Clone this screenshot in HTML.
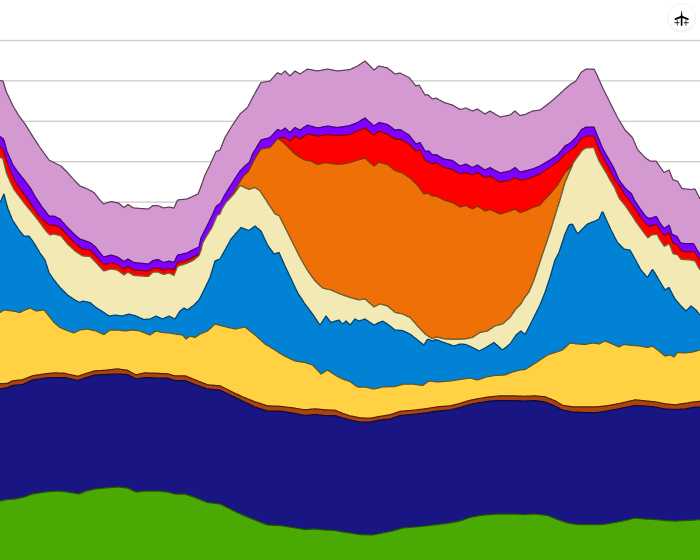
<!DOCTYPE html>
<html><head><meta charset="utf-8"><title>chart</title>
<style>html,body{margin:0;padding:0;background:#fff;}body{width:700px;height:560px;overflow:hidden;position:relative;font-family:"Liberation Sans",sans-serif;}svg{display:block;position:absolute;left:0;top:0}</style>
</head><body>
<svg width="700" height="560" viewBox="0 0 700 560">
<rect width="700" height="560" fill="#fff"/>
<rect x="0" y="39.85" width="700" height="1.3" fill="#cbcbcb"/><rect x="0" y="80.25" width="700" height="1.3" fill="#cbcbcb"/><rect x="0" y="120.65" width="700" height="1.3" fill="#cbcbcb"/><rect x="0" y="161.05" width="700" height="1.3" fill="#cbcbcb"/><rect x="0" y="201.45" width="700" height="1.3" fill="#cbcbcb"/>
<path d="M0,80.5 1,80.7 2,80.8 3,81.0 4,84.3 5,87.7 6,91.0 7,93.2 8,95.3 9,97.5 10,99.6 11,101.8 12,103.9 13,105.8 14,107.5 15,109.2 16,110.9 17,112.6 18,114.3 19,116.0 20,117.3 21,118.7 22,120.0 23,121.3 24,122.7 25,124.0 26,125.6 27,127.2 28,128.8 29,130.4 30,132.0 31,133.6 32,135.2 33,136.8 34,138.3 35,139.8 36,141.4 37,142.9 38,144.4 39,146.0 40,147.5 41,148.9 42,150.3 43,151.7 44,153.1 45,154.4 46,155.8 47,157.2 48,158.6 49,160.0 50,160.5 51,161.0 52,161.5 53,162.0 54,162.5 55,163.0 56,163.5 57,164.0 58,164.5 59,165.0 60,165.5 61,166.0 62,167.0 63,168.0 64,169.0 65,170.0 66,171.0 67,172.0 68,173.1 69,174.2 70,175.3 71,176.5 72,177.6 73,178.7 74,179.9 75,181.0 76,182.0 77,183.0 78,184.0 79,185.0 80,186.0 81,186.4 82,186.8 83,187.2 84,187.6 85,188.0 86,188.4 87,188.8 88,189.3 89,189.8 90,190.3 91,190.9 92,191.4 93,192.0 94,192.5 95,193.8 96,195.1 97,196.4 98,197.7 99,199.0 100,200.1 101,201.2 102,202.3 103,203.4 104,203.8 105,203.5 106,203.2 107,202.8 108,202.5 109,202.2 110,201.8 111,201.5 112,201.7 113,201.9 114,202.1 115,202.3 116,202.5 117,202.7 118,202.9 119,203.4 120,204.2 121,205.0 122,205.9 123,206.7 124,207.5 125,206.8 126,206.0 127,205.2 128,204.5 129,205.1 130,205.8 131,206.4 132,207.0 133,207.7 134,208.0 135,208.1 136,208.2 137,208.2 138,208.3 139,208.4 140,208.4 141,208.5 142,208.6 143,208.6 144,208.7 145,208.8 146,208.8 147,208.9 148,209.0 149,208.6 150,207.8 151,207.1 152,206.3 153,205.5 154,205.5 155,205.5 156,205.5 157,205.5 158,205.5 159,206.0 160,206.4 161,206.9 162,207.3 163,207.8 164,207.9 165,207.7 166,207.5 167,207.4 168,207.2 169,207.0 170,207.2 171,207.4 172,207.6 173,207.8 174,208.0 175,205.7 176,203.4 177,201.1 178,199.9 179,199.8 180,199.7 181,199.6 182,199.5 183,199.4 184,199.3 185,199.2 186,199.1 187,199.0 188,198.5 189,198.1 190,197.6 191,197.2 192,196.7 193,196.2 194,195.8 195,195.3 196,194.9 197,194.4 198,194.0 199,191.5 200,189.0 201,186.2 202,183.4 203,180.6 204,177.8 205,175.0 206,173.0 207,171.0 208,169.0 209,167.0 210,165.0 211,162.8 212,160.5 213,158.2 214,156.0 215,153.8 216,151.5 217,151.1 218,150.8 219,150.4 220,150.0 221,147.5 222,145.0 223,142.5 224,140.0 225,137.5 226,135.8 227,134.2 228,132.5 229,130.8 230,129.2 231,127.5 232,125.8 233,124.3 234,122.8 235,121.3 236,119.9 237,118.4 238,116.9 239,115.5 240,114.0 241,113.1 242,112.3 243,111.4 244,110.5 245,109.7 246,108.8 247,107.9 248,106.5 249,104.6 250,102.7 251,100.8 252,98.8 253,96.9 254,95.0 255,93.2 256,91.4 257,89.6 258,87.9 259,86.1 260,84.3 261,82.5 262,82.3 263,82.2 264,82.0 265,81.8 266,81.7 267,81.5 268,81.3 269,81.2 270,81.0 271,79.9 272,78.7 273,77.6 274,76.5 275,75.3 276,74.2 277,73.1 278,72.8 279,73.4 280,73.9 281,74.5 282,73.6 283,72.8 284,71.9 285,71.0 286,72.0 287,73.0 288,74.0 289,75.0 290,76.0 291,75.0 292,74.0 293,73.0 294,72.0 295,71.0 296,71.6 297,72.2 298,72.8 299,73.4 300,74.0 301,73.3 302,72.7 303,72.0 304,71.3 305,70.7 306,70.0 307,69.3 308,69.1 309,69.3 310,69.5 311,69.7 312,69.9 313,70.1 314,70.3 315,70.5 316,70.7 317,70.9 318,70.9 319,70.7 320,70.5 321,70.3 322,70.1 323,69.9 324,69.7 325,69.5 326,69.3 327,69.1 328,69.1 329,69.3 330,69.5 331,69.7 332,69.9 333,70.1 334,70.3 335,70.5 336,70.7 337,70.9 338,70.9 339,70.8 340,70.7 341,70.6 342,70.5 343,70.3 344,70.2 345,70.1 346,70.0 347,69.9 348,69.7 349,69.6 350,69.5 351,69.0 352,68.6 353,68.1 354,67.6 355,67.2 356,66.7 357,66.2 358,65.7 359,65.0 360,64.3 361,63.7 362,63.0 363,62.3 364,61.7 365,61.0 366,62.0 367,63.0 368,64.0 369,65.0 370,66.0 371,67.0 372,68.0 373,69.0 374,70.0 375,69.2 376,68.4 377,67.6 378,66.8 379,66.0 380,66.2 381,66.5 382,66.7 383,66.9 384,67.2 385,67.4 386,67.6 387,67.9 388,68.4 389,69.2 390,70.0 391,70.8 392,71.6 393,72.4 394,73.2 395,74.0 396,73.8 397,73.6 398,73.4 399,73.2 400,73.0 401,73.5 402,74.0 403,74.5 404,75.0 405,75.5 406,76.0 407,76.5 408,77.0 409,77.5 410,78.7 411,79.9 412,81.1 413,82.4 414,83.6 415,84.8 416,86.0 417,85.7 418,85.3 419,85.0 420,86.7 421,88.3 422,90.0 423,91.7 424,93.3 425,95.0 426,94.8 427,94.6 428,95.0 429,95.8 430,96.8 431,97.7 432,98.5 433,98.9 434,98.6 435,98.3 436,98.0 437,98.6 438,99.1 439,99.7 440,100.2 441,100.8 442,101.4 443,101.9 444,102.5 445,102.8 446,103.1 447,103.4 448,103.7 449,104.0 450,104.3 451,104.6 452,104.9 453,105.3 454,105.9 455,106.5 456,107.1 457,107.7 458,108.3 459,108.9 460,109.5 461,109.2 462,109.0 463,108.8 464,108.5 465,108.2 466,108.0 467,108.5 468,108.9 469,109.4 470,109.8 471,110.3 472,110.8 473,110.8 474,110.4 475,110.0 476,109.6 477,109.2 478,109.3 479,110.0 480,110.7 481,111.3 482,112.0 483,112.7 484,113.3 485,114.0 486,113.4 487,112.8 488,112.2 489,111.6 490,111.0 491,111.6 492,112.2 493,112.8 494,113.4 495,114.0 496,114.6 497,115.2 498,115.8 499,116.4 500,117.0 501,116.8 502,116.6 503,116.4 504,116.2 505,116.0 506,115.8 507,115.6 508,115.4 509,115.2 510,115.0 511,114.2 512,113.4 513,112.6 514,111.8 515,111.0 516,111.9 517,112.8 518,113.7 519,114.6 520,115.5 521,115.3 522,115.1 523,114.9 524,114.7 525,114.5 526,114.0 527,113.6 528,113.1 529,112.6 530,112.2 531,111.7 532,111.2 533,110.9 534,110.8 535,110.7 536,110.5 537,110.4 538,110.3 539,110.1 540,110.0 541,109.2 542,108.5 543,107.8 544,107.0 545,106.2 546,105.5 547,104.8 548,104.0 549,103.2 550,102.5 551,101.6 552,100.8 553,99.9 554,99.0 555,98.2 556,97.3 557,96.4 558,95.5 559,94.6 560,93.7 561,92.7 562,91.8 563,90.9 564,89.9 565,89.0 566,88.2 567,87.3 568,86.5 569,85.7 570,84.8 571,84.0 572,83.4 573,82.8 574,82.2 575,81.6 576,81.0 577,79.3 578,77.6 579,75.9 580,74.2 581,72.5 582,71.8 583,71.1 584,70.4 585,69.7 586,69.0 587,69.0 588,69.0 589,69.0 590,69.0 591,69.0 592,69.0 593,69.0 594,69.0 595,71.0 596,73.0 597,75.0 598,77.2 599,79.5 600,81.8 601,84.0 602,86.3 603,88.5 604,90.5 605,92.5 606,94.5 607,96.5 608,98.5 609,100.5 610,102.5 611,104.5 612,106.5 613,108.5 614,110.5 615,112.5 616,114.5 617,116.5 618,118.3 619,120.0 620,121.7 621,123.3 622,125.0 623,126.7 624,128.3 625,130.0 626,131.0 627,132.0 628,133.0 629,134.0 630,135.0 631,136.0 632,137.0 633,138.7 634,141.1 635,143.5 636,145.9 637,148.3 638,150.0 639,151.1 640,152.2 641,153.2 642,154.3 643,155.4 644,156.4 645,157.5 646,158.2 647,158.9 648,159.6 649,160.3 650,161.0 651,161.0 652,161.0 653,161.0 654,161.0 655,161.0 656,161.0 657,162.4 658,163.9 659,165.3 660,166.8 661,168.2 662,169.6 663,171.1 664,172.5 665,172.0 666,171.5 667,171.0 668,170.5 669,170.0 670,172.5 671,175.0 672,177.5 673,180.0 674,180.2 675,180.4 676,180.7 677,180.9 678,181.8 679,183.5 680,185.2 681,186.8 682,188.5 683,188.6 684,188.8 685,188.9 686,189.0 687,189.1 688,189.2 689,189.3 690,189.4 691,189.5 692,189.4 693,189.2 694,189.1 695,189.0 696,191.0 697,193.0 698,195.0 699,197.0 700,199.0 L700,565 L0,565Z" fill="#d499d0" stroke="none"/>
<path d="M0,80.5 1,80.7 2,80.8 3,81.0 4,84.3 5,87.7 6,91.0 7,93.2 8,95.3 9,97.5 10,99.6 11,101.8 12,103.9 13,105.8 14,107.5 15,109.2 16,110.9 17,112.6 18,114.3 19,116.0 20,117.3 21,118.7 22,120.0 23,121.3 24,122.7 25,124.0 26,125.6 27,127.2 28,128.8 29,130.4 30,132.0 31,133.6 32,135.2 33,136.8 34,138.3 35,139.8 36,141.4 37,142.9 38,144.4 39,146.0 40,147.5 41,148.9 42,150.3 43,151.7 44,153.1 45,154.4 46,155.8 47,157.2 48,158.6 49,160.0 50,160.5 51,161.0 52,161.5 53,162.0 54,162.5 55,163.0 56,163.5 57,164.0 58,164.5 59,165.0 60,165.5 61,166.0 62,167.0 63,168.0 64,169.0 65,170.0 66,171.0 67,172.0 68,173.1 69,174.2 70,175.3 71,176.5 72,177.6 73,178.7 74,179.9 75,181.0 76,182.0 77,183.0 78,184.0 79,185.0 80,186.0 81,186.4 82,186.8 83,187.2 84,187.6 85,188.0 86,188.4 87,188.8 88,189.3 89,189.8 90,190.3 91,190.9 92,191.4 93,192.0 94,192.5 95,193.8 96,195.1 97,196.4 98,197.7 99,199.0 100,200.1 101,201.2 102,202.3 103,203.4 104,203.8 105,203.5 106,203.2 107,202.8 108,202.5 109,202.2 110,201.8 111,201.5 112,201.7 113,201.9 114,202.1 115,202.3 116,202.5 117,202.7 118,202.9 119,203.4 120,204.2 121,205.0 122,205.9 123,206.7 124,207.5 125,206.8 126,206.0 127,205.2 128,204.5 129,205.1 130,205.8 131,206.4 132,207.0 133,207.7 134,208.0 135,208.1 136,208.2 137,208.2 138,208.3 139,208.4 140,208.4 141,208.5 142,208.6 143,208.6 144,208.7 145,208.8 146,208.8 147,208.9 148,209.0 149,208.6 150,207.8 151,207.1 152,206.3 153,205.5 154,205.5 155,205.5 156,205.5 157,205.5 158,205.5 159,206.0 160,206.4 161,206.9 162,207.3 163,207.8 164,207.9 165,207.7 166,207.5 167,207.4 168,207.2 169,207.0 170,207.2 171,207.4 172,207.6 173,207.8 174,208.0 175,205.7 176,203.4 177,201.1 178,199.9 179,199.8 180,199.7 181,199.6 182,199.5 183,199.4 184,199.3 185,199.2 186,199.1 187,199.0 188,198.5 189,198.1 190,197.6 191,197.2 192,196.7 193,196.2 194,195.8 195,195.3 196,194.9 197,194.4 198,194.0 199,191.5 200,189.0 201,186.2 202,183.4 203,180.6 204,177.8 205,175.0 206,173.0 207,171.0 208,169.0 209,167.0 210,165.0 211,162.8 212,160.5 213,158.2 214,156.0 215,153.8 216,151.5 217,151.1 218,150.8 219,150.4 220,150.0 221,147.5 222,145.0 223,142.5 224,140.0 225,137.5 226,135.8 227,134.2 228,132.5 229,130.8 230,129.2 231,127.5 232,125.8 233,124.3 234,122.8 235,121.3 236,119.9 237,118.4 238,116.9 239,115.5 240,114.0 241,113.1 242,112.3 243,111.4 244,110.5 245,109.7 246,108.8 247,107.9 248,106.5 249,104.6 250,102.7 251,100.8 252,98.8 253,96.9 254,95.0 255,93.2 256,91.4 257,89.6 258,87.9 259,86.1 260,84.3 261,82.5 262,82.3 263,82.2 264,82.0 265,81.8 266,81.7 267,81.5 268,81.3 269,81.2 270,81.0 271,79.9 272,78.7 273,77.6 274,76.5 275,75.3 276,74.2 277,73.1 278,72.8 279,73.4 280,73.9 281,74.5 282,73.6 283,72.8 284,71.9 285,71.0 286,72.0 287,73.0 288,74.0 289,75.0 290,76.0 291,75.0 292,74.0 293,73.0 294,72.0 295,71.0 296,71.6 297,72.2 298,72.8 299,73.4 300,74.0 301,73.3 302,72.7 303,72.0 304,71.3 305,70.7 306,70.0 307,69.3 308,69.1 309,69.3 310,69.5 311,69.7 312,69.9 313,70.1 314,70.3 315,70.5 316,70.7 317,70.9 318,70.9 319,70.7 320,70.5 321,70.3 322,70.1 323,69.9 324,69.7 325,69.5 326,69.3 327,69.1 328,69.1 329,69.3 330,69.5 331,69.7 332,69.9 333,70.1 334,70.3 335,70.5 336,70.7 337,70.9 338,70.9 339,70.8 340,70.7 341,70.6 342,70.5 343,70.3 344,70.2 345,70.1 346,70.0 347,69.9 348,69.7 349,69.6 350,69.5 351,69.0 352,68.6 353,68.1 354,67.6 355,67.2 356,66.7 357,66.2 358,65.7 359,65.0 360,64.3 361,63.7 362,63.0 363,62.3 364,61.7 365,61.0 366,62.0 367,63.0 368,64.0 369,65.0 370,66.0 371,67.0 372,68.0 373,69.0 374,70.0 375,69.2 376,68.4 377,67.6 378,66.8 379,66.0 380,66.2 381,66.5 382,66.7 383,66.9 384,67.2 385,67.4 386,67.6 387,67.9 388,68.4 389,69.2 390,70.0 391,70.8 392,71.6 393,72.4 394,73.2 395,74.0 396,73.8 397,73.6 398,73.4 399,73.2 400,73.0 401,73.5 402,74.0 403,74.5 404,75.0 405,75.5 406,76.0 407,76.5 408,77.0 409,77.5 410,78.7 411,79.9 412,81.1 413,82.4 414,83.6 415,84.8 416,86.0 417,85.7 418,85.3 419,85.0 420,86.7 421,88.3 422,90.0 423,91.7 424,93.3 425,95.0 426,94.8 427,94.6 428,95.0 429,95.8 430,96.8 431,97.7 432,98.5 433,98.9 434,98.6 435,98.3 436,98.0 437,98.6 438,99.1 439,99.7 440,100.2 441,100.8 442,101.4 443,101.9 444,102.5 445,102.8 446,103.1 447,103.4 448,103.7 449,104.0 450,104.3 451,104.6 452,104.9 453,105.3 454,105.9 455,106.5 456,107.1 457,107.7 458,108.3 459,108.9 460,109.5 461,109.2 462,109.0 463,108.8 464,108.5 465,108.2 466,108.0 467,108.5 468,108.9 469,109.4 470,109.8 471,110.3 472,110.8 473,110.8 474,110.4 475,110.0 476,109.6 477,109.2 478,109.3 479,110.0 480,110.7 481,111.3 482,112.0 483,112.7 484,113.3 485,114.0 486,113.4 487,112.8 488,112.2 489,111.6 490,111.0 491,111.6 492,112.2 493,112.8 494,113.4 495,114.0 496,114.6 497,115.2 498,115.8 499,116.4 500,117.0 501,116.8 502,116.6 503,116.4 504,116.2 505,116.0 506,115.8 507,115.6 508,115.4 509,115.2 510,115.0 511,114.2 512,113.4 513,112.6 514,111.8 515,111.0 516,111.9 517,112.8 518,113.7 519,114.6 520,115.5 521,115.3 522,115.1 523,114.9 524,114.7 525,114.5 526,114.0 527,113.6 528,113.1 529,112.6 530,112.2 531,111.7 532,111.2 533,110.9 534,110.8 535,110.7 536,110.5 537,110.4 538,110.3 539,110.1 540,110.0 541,109.2 542,108.5 543,107.8 544,107.0 545,106.2 546,105.5 547,104.8 548,104.0 549,103.2 550,102.5 551,101.6 552,100.8 553,99.9 554,99.0 555,98.2 556,97.3 557,96.4 558,95.5 559,94.6 560,93.7 561,92.7 562,91.8 563,90.9 564,89.9 565,89.0 566,88.2 567,87.3 568,86.5 569,85.7 570,84.8 571,84.0 572,83.4 573,82.8 574,82.2 575,81.6 576,81.0 577,79.3 578,77.6 579,75.9 580,74.2 581,72.5 582,71.8 583,71.1 584,70.4 585,69.7 586,69.0 587,69.0 588,69.0 589,69.0 590,69.0 591,69.0 592,69.0 593,69.0 594,69.0 595,71.0 596,73.0 597,75.0 598,77.2 599,79.5 600,81.8 601,84.0 602,86.3 603,88.5 604,90.5 605,92.5 606,94.5 607,96.5 608,98.5 609,100.5 610,102.5 611,104.5 612,106.5 613,108.5 614,110.5 615,112.5 616,114.5 617,116.5 618,118.3 619,120.0 620,121.7 621,123.3 622,125.0 623,126.7 624,128.3 625,130.0 626,131.0 627,132.0 628,133.0 629,134.0 630,135.0 631,136.0 632,137.0 633,138.7 634,141.1 635,143.5 636,145.9 637,148.3 638,150.0 639,151.1 640,152.2 641,153.2 642,154.3 643,155.4 644,156.4 645,157.5 646,158.2 647,158.9 648,159.6 649,160.3 650,161.0 651,161.0 652,161.0 653,161.0 654,161.0 655,161.0 656,161.0 657,162.4 658,163.9 659,165.3 660,166.8 661,168.2 662,169.6 663,171.1 664,172.5 665,172.0 666,171.5 667,171.0 668,170.5 669,170.0 670,172.5 671,175.0 672,177.5 673,180.0 674,180.2 675,180.4 676,180.7 677,180.9 678,181.8 679,183.5 680,185.2 681,186.8 682,188.5 683,188.6 684,188.8 685,188.9 686,189.0 687,189.1 688,189.2 689,189.3 690,189.4 691,189.5 692,189.4 693,189.2 694,189.1 695,189.0 696,191.0 697,193.0 698,195.0 699,197.0 700,199.0" fill="none" stroke="#5c4059" stroke-width="1.25" stroke-linejoin="round"/>
<path d="M0,136.5 1,137.2 2,137.9 3,138.6 4,140.5 5,144.1 6,147.8 7,151.4 8,153.7 9,156.0 10,158.3 11,160.6 12,162.9 13,165.1 14,166.5 15,167.9 16,169.4 17,170.8 18,172.2 19,173.5 20,174.7 21,175.9 22,177.2 23,178.4 24,179.6 25,180.9 26,182.3 27,183.6 28,185.0 29,186.3 30,187.7 31,189.1 32,190.9 33,192.7 34,194.5 35,196.3 36,197.9 37,199.4 38,200.9 39,202.4 40,203.9 41,205.4 42,206.8 43,208.1 44,209.4 45,210.7 46,212.1 47,213.4 48,214.7 49,216.0 50,216.0 51,216.0 52,216.0 53,216.0 54,216.0 55,216.5 56,217.0 57,217.5 58,218.0 59,218.5 60,219.0 61,220.1 62,221.3 63,222.4 64,223.5 65,224.7 66,225.8 67,226.9 68,228.0 69,229.0 70,230.0 71,231.0 72,232.0 73,233.0 74,234.0 75,235.0 76,235.8 77,236.6 78,237.4 79,238.2 80,239.0 81,239.3 82,239.7 83,240.1 84,240.4 85,240.8 86,241.1 87,241.4 88,241.8 89,242.2 90,242.5 91,243.3 92,244.1 93,244.9 94,245.7 95,246.5 96,247.7 97,249.0 98,250.2 99,251.4 100,252.7 101,253.9 102,255.1 103,256.4 104,256.9 105,256.6 106,256.3 107,256.1 108,255.8 109,255.5 110,255.3 111,255.0 112,255.3 113,255.6 114,255.9 115,256.2 116,256.5 117,256.8 118,257.3 119,258.0 120,258.7 121,259.4 122,260.1 123,260.8 124,261.5 125,260.9 126,260.2 127,259.6 128,259.0 129,259.6 130,260.3 131,260.9 132,261.5 133,262.2 134,262.6 135,262.6 136,262.8 137,262.9 138,262.9 139,263.1 140,263.1 141,263.2 142,263.4 143,263.4 144,263.6 145,263.6 146,263.8 147,263.9 148,263.9 149,263.6 150,262.8 151,262.1 152,261.3 153,260.5 154,260.3 155,260.1 156,259.9 157,259.7 158,259.5 159,260.0 160,260.6 161,261.1 162,261.7 163,262.2 164,262.4 165,262.1 166,261.8 167,261.5 168,261.3 169,261.0 170,261.3 171,261.6 172,261.9 173,262.2 174,262.5 175,260.4 176,258.2 177,256.1 178,254.9 179,254.7 180,254.5 181,254.3 182,254.1 183,253.8 184,253.6 185,253.4 186,253.2 187,253.0 188,252.5 189,251.9 190,251.4 191,250.8 192,250.3 193,249.8 194,249.3 195,248.8 196,248.4 197,247.9 198,247.5 199,247.0 200,242.5 201,238.0 202,236.0 203,234.0 204,232.0 205,230.0 206,228.0 207,226.0 208,224.0 209,221.9 210,219.9 211,217.9 212,215.8 213,213.8 214,211.4 215,209.1 216,206.7 217,205.6 218,205.0 219,204.4 220,203.9 221,202.3 222,200.3 223,198.3 224,196.3 225,194.6 226,193.0 227,191.4 228,189.8 229,188.2 230,186.6 231,185.0 232,183.4 233,181.8 234,180.1 235,178.5 236,177.0 237,175.5 238,174.0 239,172.5 240,171.0 241,169.9 242,168.9 243,167.9 244,166.9 245,165.9 246,164.9 247,164.2 248,163.5 249,162.9 250,160.9 251,158.2 252,155.4 253,153.4 254,151.6 255,149.9 256,148.2 257,146.5 258,144.9 259,143.3 260,141.6 261,140.0 262,139.7 263,139.4 264,139.2 265,138.9 266,138.6 267,138.3 268,138.1 269,137.8 270,137.5 271,136.4 272,135.4 273,134.3 274,133.2 275,132.2 276,131.1 277,130.0 278,129.7 279,130.1 280,130.6 281,131.0 282,130.2 283,129.5 284,128.8 285,128.0 286,128.9 287,129.8 288,130.7 289,131.6 290,132.5 291,131.5 292,130.5 293,129.5 294,128.5 295,127.5 296,128.0 297,128.5 298,129.0 299,129.5 300,130.0 301,129.3 302,128.7 303,128.0 304,127.3 305,126.7 306,126.0 307,125.3 308,125.2 309,125.5 310,125.8 311,126.0 312,126.3 313,126.7 314,127.0 315,127.2 316,127.5 317,127.8 318,127.9 319,127.7 320,127.5 321,127.3 322,127.1 323,126.9 324,126.7 325,126.5 326,126.3 327,126.1 328,126.1 329,126.2 330,126.4 331,126.5 332,126.7 333,126.8 334,127.0 335,127.1 336,127.3 337,127.4 338,127.4 339,127.3 340,127.1 341,126.9 342,126.8 343,126.6 344,126.5 345,126.3 346,126.1 347,126.0 348,125.8 349,125.7 350,125.5 351,125.1 352,124.7 353,124.3 354,123.9 355,123.5 356,123.1 357,122.7 358,122.2 359,121.6 360,121.0 361,120.4 362,119.8 363,119.2 364,118.6 365,118.0 366,118.9 367,119.8 368,120.7 369,121.6 370,122.4 371,123.3 372,124.2 373,125.1 374,126.0 375,125.3 376,124.6 377,123.9 378,123.2 379,122.5 380,122.7 381,123.0 382,123.2 383,123.4 384,123.7 385,123.9 386,124.1 387,124.4 388,124.9 389,125.6 390,126.3 391,127.1 392,127.8 393,128.5 394,129.3 395,130.0 396,129.9 397,129.8 398,129.7 399,129.6 400,129.5 401,130.1 402,130.7 403,131.3 404,131.9 405,132.6 406,133.2 407,133.8 408,134.4 409,135.0 410,136.3 411,137.6 412,138.9 413,140.1 414,141.4 415,142.7 416,144.0 417,143.6 418,143.2 419,142.9 420,142.5 421,144.2 422,145.9 423,147.6 424,149.3 425,151.0 426,151.0 427,151.0 428,151.0 429,151.0 430,152.1 431,153.3 432,154.4 433,154.9 434,154.8 435,154.6 436,154.5 437,155.1 438,155.6 439,156.2 440,156.8 441,157.3 442,157.9 443,158.4 444,159.0 445,159.2 446,159.4 447,159.5 448,159.7 449,159.9 450,160.1 451,160.2 452,160.4 453,160.9 454,161.6 455,162.3 456,163.1 457,163.8 458,164.5 459,165.3 460,166.0 461,165.7 462,165.3 463,165.0 464,164.7 465,164.3 466,164.0 467,164.5 468,165.1 469,165.6 470,166.2 471,166.7 472,167.2 473,167.2 474,166.8 475,166.2 476,165.8 477,165.2 478,165.3 479,166.0 480,166.7 481,167.3 482,168.0 483,168.7 484,169.3 485,170.0 486,169.5 487,169.0 488,168.5 489,168.0 490,167.5 491,168.1 492,168.6 493,169.2 494,169.7 495,170.2 496,170.8 497,171.3 498,171.9 499,172.4 500,173.0 501,172.8 502,172.6 503,172.4 504,172.2 505,172.0 506,171.8 507,171.6 508,171.4 509,171.2 510,171.0 511,170.3 512,169.6 513,168.9 514,168.2 515,167.5 516,168.4 517,169.3 518,170.2 519,171.1 520,172.0 521,171.8 522,171.6 523,171.4 524,171.2 525,171.0 526,170.7 527,170.5 528,170.2 529,169.9 530,169.7 531,169.4 532,169.1 533,168.8 534,168.4 535,168.0 536,167.6 537,167.2 538,166.8 539,166.4 540,166.0 541,165.4 542,164.8 543,164.2 544,163.6 545,163.0 546,162.4 547,161.8 548,161.2 549,160.6 550,160.0 551,159.3 552,158.7 553,158.0 554,157.3 555,156.7 556,156.0 557,155.3 558,154.4 559,153.2 560,152.0 561,150.8 562,149.6 563,148.4 564,147.2 565,146.0 566,145.4 567,144.8 568,144.2 569,143.7 570,143.1 571,142.5 572,141.5 573,140.5 574,139.5 575,138.5 576,137.5 577,136.0 578,134.5 579,133.0 580,131.5 581,130.0 582,129.4 583,128.8 584,128.2 585,127.6 586,127.0 587,127.0 588,127.0 589,127.0 590,127.0 591,127.0 592,127.0 593,127.0 594,127.0 595,129.6 596,132.1 597,134.7 598,137.2 599,139.6 600,142.0 601,144.4 602,146.8 603,148.9 604,150.8 605,152.6 606,154.5 607,156.2 608,157.8 609,159.5 610,161.2 611,162.9 612,164.8 613,166.6 614,168.5 615,170.8 616,173.1 617,175.4 618,177.7 619,180.0 620,181.3 621,182.6 622,184.0 623,185.3 624,186.6 625,187.9 626,189.0 627,189.9 628,190.7 629,191.6 630,192.4 631,193.3 632,194.9 633,197.1 634,199.3 635,201.1 636,202.6 637,204.1 638,205.6 639,207.1 640,208.6 641,210.0 642,211.3 643,212.7 644,214.1 645,215.4 646,216.6 647,217.2 648,217.8 649,218.4 650,218.4 651,218.1 652,217.8 653,217.5 654,217.1 655,216.8 656,216.5 657,217.5 658,219.3 659,221.2 660,223.0 661,224.3 662,225.6 663,226.8 664,228.1 665,228.0 666,227.3 667,226.6 668,225.9 669,225.2 670,227.4 671,230.9 672,234.3 673,234.7 674,235.1 675,235.6 676,236.0 677,236.4 678,238.2 679,240.0 680,241.8 681,243.0 682,243.2 683,243.3 684,243.4 685,243.5 686,243.6 687,243.6 688,243.6 689,243.6 690,243.6 691,243.6 692,243.6 693,243.6 694,244.4 695,246.2 696,248.1 697,250.0 698,251.3 699,252.7 700,254.0 L700,565 L0,565Z" fill="#8000ff" stroke="none"/>
<path d="M0,136.5 1,137.2 2,137.9 3,138.6 4,140.5 5,144.1 6,147.8 7,151.4 8,153.7 9,156.0 10,158.3 11,160.6 12,162.9 13,165.1 14,166.5 15,167.9 16,169.4 17,170.8 18,172.2 19,173.5 20,174.7 21,175.9 22,177.2 23,178.4 24,179.6 25,180.9 26,182.3 27,183.6 28,185.0 29,186.3 30,187.7 31,189.1 32,190.9 33,192.7 34,194.5 35,196.3 36,197.9 37,199.4 38,200.9 39,202.4 40,203.9 41,205.4 42,206.8 43,208.1 44,209.4 45,210.7 46,212.1 47,213.4 48,214.7 49,216.0 50,216.0 51,216.0 52,216.0 53,216.0 54,216.0 55,216.5 56,217.0 57,217.5 58,218.0 59,218.5 60,219.0 61,220.1 62,221.3 63,222.4 64,223.5 65,224.7 66,225.8 67,226.9 68,228.0 69,229.0 70,230.0 71,231.0 72,232.0 73,233.0 74,234.0 75,235.0 76,235.8 77,236.6 78,237.4 79,238.2 80,239.0 81,239.3 82,239.7 83,240.1 84,240.4 85,240.8 86,241.1 87,241.4 88,241.8 89,242.2 90,242.5 91,243.3 92,244.1 93,244.9 94,245.7 95,246.5 96,247.7 97,249.0 98,250.2 99,251.4 100,252.7 101,253.9 102,255.1 103,256.4 104,256.9 105,256.6 106,256.3 107,256.1 108,255.8 109,255.5 110,255.3 111,255.0 112,255.3 113,255.6 114,255.9 115,256.2 116,256.5 117,256.8 118,257.3 119,258.0 120,258.7 121,259.4 122,260.1 123,260.8 124,261.5 125,260.9 126,260.2 127,259.6 128,259.0 129,259.6 130,260.3 131,260.9 132,261.5 133,262.2 134,262.6 135,262.6 136,262.8 137,262.9 138,262.9 139,263.1 140,263.1 141,263.2 142,263.4 143,263.4 144,263.6 145,263.6 146,263.8 147,263.9 148,263.9 149,263.6 150,262.8 151,262.1 152,261.3 153,260.5 154,260.3 155,260.1 156,259.9 157,259.7 158,259.5 159,260.0 160,260.6 161,261.1 162,261.7 163,262.2 164,262.4 165,262.1 166,261.8 167,261.5 168,261.3 169,261.0 170,261.3 171,261.6 172,261.9 173,262.2 174,262.5 175,260.4 176,258.2 177,256.1 178,254.9 179,254.7 180,254.5 181,254.3 182,254.1 183,253.8 184,253.6 185,253.4 186,253.2 187,253.0 188,252.5 189,251.9 190,251.4 191,250.8 192,250.3 193,249.8 194,249.3 195,248.8 196,248.4 197,247.9 198,247.5 199,247.0 200,242.5 201,238.0 202,236.0 203,234.0 204,232.0 205,230.0 206,228.0 207,226.0 208,224.0 209,221.9 210,219.9 211,217.9 212,215.8 213,213.8 214,211.4 215,209.1 216,206.7 217,205.6 218,205.0 219,204.4 220,203.9 221,202.3 222,200.3 223,198.3 224,196.3 225,194.6 226,193.0 227,191.4 228,189.8 229,188.2 230,186.6 231,185.0 232,183.4 233,181.8 234,180.1 235,178.5 236,177.0 237,175.5 238,174.0 239,172.5 240,171.0 241,169.9 242,168.9 243,167.9 244,166.9 245,165.9 246,164.9 247,164.2 248,163.5 249,162.9 250,160.9 251,158.2 252,155.4 253,153.4 254,151.6 255,149.9 256,148.2 257,146.5 258,144.9 259,143.3 260,141.6 261,140.0 262,139.7 263,139.4 264,139.2 265,138.9 266,138.6 267,138.3 268,138.1 269,137.8 270,137.5 271,136.4 272,135.4 273,134.3 274,133.2 275,132.2 276,131.1 277,130.0 278,129.7 279,130.1 280,130.6 281,131.0 282,130.2 283,129.5 284,128.8 285,128.0 286,128.9 287,129.8 288,130.7 289,131.6 290,132.5 291,131.5 292,130.5 293,129.5 294,128.5 295,127.5 296,128.0 297,128.5 298,129.0 299,129.5 300,130.0 301,129.3 302,128.7 303,128.0 304,127.3 305,126.7 306,126.0 307,125.3 308,125.2 309,125.5 310,125.8 311,126.0 312,126.3 313,126.7 314,127.0 315,127.2 316,127.5 317,127.8 318,127.9 319,127.7 320,127.5 321,127.3 322,127.1 323,126.9 324,126.7 325,126.5 326,126.3 327,126.1 328,126.1 329,126.2 330,126.4 331,126.5 332,126.7 333,126.8 334,127.0 335,127.1 336,127.3 337,127.4 338,127.4 339,127.3 340,127.1 341,126.9 342,126.8 343,126.6 344,126.5 345,126.3 346,126.1 347,126.0 348,125.8 349,125.7 350,125.5 351,125.1 352,124.7 353,124.3 354,123.9 355,123.5 356,123.1 357,122.7 358,122.2 359,121.6 360,121.0 361,120.4 362,119.8 363,119.2 364,118.6 365,118.0 366,118.9 367,119.8 368,120.7 369,121.6 370,122.4 371,123.3 372,124.2 373,125.1 374,126.0 375,125.3 376,124.6 377,123.9 378,123.2 379,122.5 380,122.7 381,123.0 382,123.2 383,123.4 384,123.7 385,123.9 386,124.1 387,124.4 388,124.9 389,125.6 390,126.3 391,127.1 392,127.8 393,128.5 394,129.3 395,130.0 396,129.9 397,129.8 398,129.7 399,129.6 400,129.5 401,130.1 402,130.7 403,131.3 404,131.9 405,132.6 406,133.2 407,133.8 408,134.4 409,135.0 410,136.3 411,137.6 412,138.9 413,140.1 414,141.4 415,142.7 416,144.0 417,143.6 418,143.2 419,142.9 420,142.5 421,144.2 422,145.9 423,147.6 424,149.3 425,151.0 426,151.0 427,151.0 428,151.0 429,151.0 430,152.1 431,153.3 432,154.4 433,154.9 434,154.8 435,154.6 436,154.5 437,155.1 438,155.6 439,156.2 440,156.8 441,157.3 442,157.9 443,158.4 444,159.0 445,159.2 446,159.4 447,159.5 448,159.7 449,159.9 450,160.1 451,160.2 452,160.4 453,160.9 454,161.6 455,162.3 456,163.1 457,163.8 458,164.5 459,165.3 460,166.0 461,165.7 462,165.3 463,165.0 464,164.7 465,164.3 466,164.0 467,164.5 468,165.1 469,165.6 470,166.2 471,166.7 472,167.2 473,167.2 474,166.8 475,166.2 476,165.8 477,165.2 478,165.3 479,166.0 480,166.7 481,167.3 482,168.0 483,168.7 484,169.3 485,170.0 486,169.5 487,169.0 488,168.5 489,168.0 490,167.5 491,168.1 492,168.6 493,169.2 494,169.7 495,170.2 496,170.8 497,171.3 498,171.9 499,172.4 500,173.0 501,172.8 502,172.6 503,172.4 504,172.2 505,172.0 506,171.8 507,171.6 508,171.4 509,171.2 510,171.0 511,170.3 512,169.6 513,168.9 514,168.2 515,167.5 516,168.4 517,169.3 518,170.2 519,171.1 520,172.0 521,171.8 522,171.6 523,171.4 524,171.2 525,171.0 526,170.7 527,170.5 528,170.2 529,169.9 530,169.7 531,169.4 532,169.1 533,168.8 534,168.4 535,168.0 536,167.6 537,167.2 538,166.8 539,166.4 540,166.0 541,165.4 542,164.8 543,164.2 544,163.6 545,163.0 546,162.4 547,161.8 548,161.2 549,160.6 550,160.0 551,159.3 552,158.7 553,158.0 554,157.3 555,156.7 556,156.0 557,155.3 558,154.4 559,153.2 560,152.0 561,150.8 562,149.6 563,148.4 564,147.2 565,146.0 566,145.4 567,144.8 568,144.2 569,143.7 570,143.1 571,142.5 572,141.5 573,140.5 574,139.5 575,138.5 576,137.5 577,136.0 578,134.5 579,133.0 580,131.5 581,130.0 582,129.4 583,128.8 584,128.2 585,127.6 586,127.0 587,127.0 588,127.0 589,127.0 590,127.0 591,127.0 592,127.0 593,127.0 594,127.0 595,129.6 596,132.1 597,134.7 598,137.2 599,139.6 600,142.0 601,144.4 602,146.8 603,148.9 604,150.8 605,152.6 606,154.5 607,156.2 608,157.8 609,159.5 610,161.2 611,162.9 612,164.8 613,166.6 614,168.5 615,170.8 616,173.1 617,175.4 618,177.7 619,180.0 620,181.3 621,182.6 622,184.0 623,185.3 624,186.6 625,187.9 626,189.0 627,189.9 628,190.7 629,191.6 630,192.4 631,193.3 632,194.9 633,197.1 634,199.3 635,201.1 636,202.6 637,204.1 638,205.6 639,207.1 640,208.6 641,210.0 642,211.3 643,212.7 644,214.1 645,215.4 646,216.6 647,217.2 648,217.8 649,218.4 650,218.4 651,218.1 652,217.8 653,217.5 654,217.1 655,216.8 656,216.5 657,217.5 658,219.3 659,221.2 660,223.0 661,224.3 662,225.6 663,226.8 664,228.1 665,228.0 666,227.3 667,226.6 668,225.9 669,225.2 670,227.4 671,230.9 672,234.3 673,234.7 674,235.1 675,235.6 676,236.0 677,236.4 678,238.2 679,240.0 680,241.8 681,243.0 682,243.2 683,243.3 684,243.4 685,243.5 686,243.6 687,243.6 688,243.6 689,243.6 690,243.6 691,243.6 692,243.6 693,243.6 694,244.4 695,246.2 696,248.1 697,250.0 698,251.3 699,252.7 700,254.0" fill="none" stroke="#40007f" stroke-width="1.25" stroke-linejoin="round"/>
<path d="M0,147.0 1,147.6 2,148.1 3,148.9 4,152.2 5,155.4 6,158.7 7,161.7 8,164.5 9,167.3 10,170.0 11,172.6 12,174.7 13,176.8 14,178.9 15,181.0 16,182.9 17,184.3 18,185.7 19,187.1 20,188.5 21,189.9 22,191.3 23,192.7 24,194.1 25,195.5 26,196.9 27,198.3 28,199.7 29,201.1 30,202.6 31,204.1 32,205.6 33,207.1 34,208.6 35,210.0 36,211.4 37,212.8 38,214.2 39,215.6 40,217.0 41,217.9 42,218.8 43,219.7 44,220.6 45,221.4 46,222.3 47,223.2 48,224.1 49,225.0 50,225.0 51,225.0 52,225.0 53,225.0 54,225.0 55,225.4 56,225.8 57,226.2 58,226.7 59,227.1 60,227.5 61,228.5 62,229.5 63,230.5 64,231.5 65,232.5 66,233.5 67,234.5 68,235.6 69,236.7 70,237.8 71,239.0 72,240.1 73,241.2 74,242.4 75,243.5 76,244.2 77,245.0 78,245.7 79,246.4 80,247.2 81,247.9 82,248.6 83,249.1 84,249.2 85,249.3 86,249.5 87,249.6 88,249.7 89,249.9 90,250.0 91,251.0 92,252.0 93,253.0 94,254.0 95,255.0 96,256.1 97,257.2 98,258.4 99,259.5 100,260.6 101,261.7 102,262.8 103,263.9 104,264.4 105,264.2 106,264.0 107,263.8 108,263.6 109,263.4 110,263.2 111,263.0 112,263.2 113,263.5 114,263.7 115,263.9 116,264.2 117,264.4 118,264.8 119,265.5 120,266.2 121,266.9 122,267.6 123,268.3 124,269.0 125,268.4 126,267.8 127,267.1 128,266.5 129,267.1 130,267.8 131,268.4 132,269.0 133,269.7 134,270.0 135,270.1 136,270.2 137,270.2 138,270.3 139,270.4 140,270.4 141,270.5 142,270.6 143,270.6 144,270.7 145,270.8 146,270.8 147,270.9 148,271.0 149,270.7 150,270.0 151,269.3 152,268.7 153,268.0 154,268.0 155,268.0 156,268.0 157,268.0 158,268.0 159,268.4 160,268.7 161,269.1 162,269.5 163,269.8 164,269.9 165,269.6 166,269.3 167,269.0 168,268.8 169,268.5 170,268.8 171,269.1 172,269.4 173,269.7 174,270.0 175,267.9 176,265.7 177,263.6 178,262.4 179,262.1 180,261.8 181,261.6 182,261.3 183,261.1 184,260.8 185,260.5 186,260.3 187,260.0 188,259.5 189,259.1 190,258.6 191,258.2 192,257.7 193,257.2 194,256.7 195,256.2 196,255.6 197,255.1 198,254.5 199,254.0 200,252.0 201,249.3 202,245.9 203,242.5 204,240.8 205,239.0 206,237.2 207,235.5 208,233.9 209,232.3 210,230.7 211,229.1 212,227.5 213,225.2 214,222.8 215,220.5 216,218.0 217,215.5 218,215.0 219,214.5 220,214.0 221,211.5 222,209.0 223,207.3 224,205.7 225,204.0 226,202.6 227,201.2 228,199.9 229,198.5 230,197.4 231,196.3 232,195.0 233,193.4 234,191.7 235,190.1 236,188.4 237,186.6 238,184.9 239,183.2 240,181.4 241,179.8 242,178.3 243,176.8 244,175.4 245,174.6 246,173.7 247,172.8 248,172.0 249,170.3 250,168.3 251,166.3 252,164.3 253,162.3 254,160.3 255,158.6 256,156.8 257,155.1 258,153.3 259,151.8 260,150.4 261,149.0 262,148.8 263,148.7 264,148.5 265,148.3 266,148.2 267,148.0 268,147.8 269,147.7 270,147.5 271,146.4 272,145.2 273,144.1 274,143.0 275,141.8 276,140.7 277,139.6 278,138.8 279,138.4 280,137.9 281,137.5 282,137.5 283,137.5 284,137.5 285,137.5 286,138.2 287,138.9 288,139.6 289,140.3 290,141.0 291,140.0 292,139.0 293,138.0 294,137.0 295,136.0 296,136.6 297,137.2 298,137.8 299,138.4 300,139.0 301,138.3 302,137.7 303,137.0 304,136.3 305,135.7 306,135.0 307,134.3 308,134.1 309,134.3 310,134.5 311,134.7 312,134.9 313,135.1 314,135.3 315,135.5 316,135.7 317,135.9 318,135.9 319,135.8 320,135.6 321,135.5 322,135.3 323,135.2 324,135.0 325,134.9 326,134.7 327,134.6 328,134.6 329,134.7 330,134.8 331,134.8 332,134.9 333,135.1 334,135.2 335,135.2 336,135.3 337,135.4 338,135.5 339,135.4 340,135.3 341,135.2 342,135.1 343,135.1 344,135.0 345,134.9 346,134.8 347,134.7 348,134.7 349,134.6 350,134.5 351,134.0 352,133.6 353,133.1 354,132.6 355,132.2 356,131.7 357,131.2 358,130.8 359,130.4 360,130.0 361,129.6 362,129.2 363,128.8 364,128.4 365,128.0 366,128.8 367,129.6 368,130.3 369,131.1 370,131.9 371,132.7 372,133.4 373,134.2 374,135.0 375,134.2 376,133.4 377,132.6 378,131.8 379,131.0 380,131.4 381,131.7 382,132.1 383,132.4 384,132.8 385,133.1 386,133.5 387,133.8 388,134.3 389,135.0 390,135.7 391,136.3 392,137.0 393,137.7 394,138.3 395,139.0 396,139.0 397,139.0 398,139.0 399,139.0 400,139.0 401,139.6 402,140.1 403,140.7 404,141.2 405,141.8 406,142.3 407,142.9 408,143.4 409,144.0 410,145.0 411,146.0 412,147.0 413,148.0 414,149.0 415,150.0 416,151.0 417,150.8 418,150.5 419,150.2 420,150.0 421,152.0 422,154.0 423,156.0 424,158.0 425,160.0 426,160.5 427,161.1 428,161.6 429,162.1 430,162.7 431,163.2 432,163.7 433,163.8 434,163.4 435,162.9 436,162.5 437,163.1 438,163.8 439,164.4 440,165.0 441,165.6 442,166.2 443,166.9 444,167.5 445,167.7 446,168.0 447,168.2 448,168.4 449,168.7 450,168.9 451,169.1 452,169.4 453,169.8 454,170.4 455,171.0 456,171.6 457,172.2 458,172.8 459,173.4 460,174.0 461,173.8 462,173.5 463,173.2 464,173.0 465,172.8 466,172.5 467,172.9 468,173.3 469,173.7 470,174.0 471,174.4 472,174.8 473,174.8 474,174.2 475,173.8 476,173.2 477,172.8 478,172.8 479,173.5 480,174.2 481,174.8 482,175.5 483,176.2 484,176.8 485,177.5 486,177.2 487,176.9 488,176.6 489,176.3 490,176.0 491,176.6 492,177.2 493,177.8 494,178.4 495,179.0 496,179.6 497,180.2 498,180.8 499,181.4 500,182.0 501,181.8 502,181.6 503,181.4 504,181.2 505,181.0 506,180.8 507,180.6 508,180.4 509,180.2 510,180.0 511,179.5 512,179.0 513,178.5 514,178.0 515,177.5 516,178.0 517,178.5 518,179.0 519,179.5 520,180.0 521,179.9 522,179.8 523,179.7 524,179.6 525,179.5 526,179.2 527,178.8 528,178.5 529,178.2 530,177.8 531,177.5 532,177.2 533,176.8 534,176.4 535,176.0 536,175.6 537,175.2 538,174.8 539,174.4 540,174.0 541,173.3 542,172.6 543,171.9 544,171.2 545,170.5 546,169.8 547,169.1 548,168.4 549,167.7 550,167.0 551,166.3 552,165.7 553,165.0 554,164.3 555,163.7 556,163.0 557,162.3 558,161.5 559,160.4 560,159.3 561,158.3 562,157.2 563,156.1 564,155.1 565,154.0 566,153.3 567,152.7 568,152.0 569,151.3 570,150.7 571,150.0 572,149.2 573,148.4 574,147.6 575,146.8 576,146.0 577,144.6 578,143.2 579,141.8 580,140.4 581,139.0 582,138.4 583,137.8 584,137.2 585,136.6 586,136.0 587,136.0 588,136.0 589,136.0 590,136.0 591,136.0 592,136.0 593,136.0 594,136.0 595,138.9 596,141.8 597,144.4 598,146.7 599,149.1 600,151.4 601,153.4 602,155.4 603,157.4 604,159.4 605,161.4 606,163.0 607,164.5 608,166.1 609,167.8 610,169.9 611,171.9 612,174.0 613,176.0 614,178.0 615,180.0 616,181.3 617,182.7 618,184.0 619,185.4 620,186.7 621,188.1 622,189.8 623,191.7 624,193.7 625,195.1 626,196.2 627,197.4 628,198.5 629,199.7 630,201.1 631,202.6 632,204.1 633,205.6 634,207.1 635,208.6 636,210.2 637,211.7 638,213.3 639,214.8 640,216.4 641,217.7 642,218.9 643,220.2 644,221.5 645,222.7 646,223.8 647,224.6 648,225.4 649,226.2 650,226.2 651,225.9 652,225.6 653,225.3 654,225.0 655,224.7 656,224.4 657,225.3 658,226.8 659,228.4 660,230.0 661,231.3 662,232.6 663,233.8 664,235.1 665,235.1 666,234.6 667,234.1 668,233.6 669,233.1 670,234.9 671,237.7 672,240.5 673,243.0 674,243.4 675,243.8 676,244.2 677,244.6 678,245.2 679,246.8 680,248.4 681,250.0 682,250.8 683,251.1 684,251.3 685,251.5 686,251.8 687,252.0 688,251.9 689,251.8 690,251.8 691,251.7 692,251.6 693,251.5 694,251.4 695,252.5 696,254.0 697,255.6 698,257.1 699,258.6 700,260.0 L700,565 L0,565Z" fill="#ff0000" stroke="none"/>
<path d="M0,147.0 1,147.6 2,148.1 3,148.9 4,152.2 5,155.4 6,158.7 7,161.7 8,164.5 9,167.3 10,170.0 11,172.6 12,174.7 13,176.8 14,178.9 15,181.0 16,182.9 17,184.3 18,185.7 19,187.1 20,188.5 21,189.9 22,191.3 23,192.7 24,194.1 25,195.5 26,196.9 27,198.3 28,199.7 29,201.1 30,202.6 31,204.1 32,205.6 33,207.1 34,208.6 35,210.0 36,211.4 37,212.8 38,214.2 39,215.6 40,217.0 41,217.9 42,218.8 43,219.7 44,220.6 45,221.4 46,222.3 47,223.2 48,224.1 49,225.0 50,225.0 51,225.0 52,225.0 53,225.0 54,225.0 55,225.4 56,225.8 57,226.2 58,226.7 59,227.1 60,227.5 61,228.5 62,229.5 63,230.5 64,231.5 65,232.5 66,233.5 67,234.5 68,235.6 69,236.7 70,237.8 71,239.0 72,240.1 73,241.2 74,242.4 75,243.5 76,244.2 77,245.0 78,245.7 79,246.4 80,247.2 81,247.9 82,248.6 83,249.1 84,249.2 85,249.3 86,249.5 87,249.6 88,249.7 89,249.9 90,250.0 91,251.0 92,252.0 93,253.0 94,254.0 95,255.0 96,256.1 97,257.2 98,258.4 99,259.5 100,260.6 101,261.7 102,262.8 103,263.9 104,264.4 105,264.2 106,264.0 107,263.8 108,263.6 109,263.4 110,263.2 111,263.0 112,263.2 113,263.5 114,263.7 115,263.9 116,264.2 117,264.4 118,264.8 119,265.5 120,266.2 121,266.9 122,267.6 123,268.3 124,269.0 125,268.4 126,267.8 127,267.1 128,266.5 129,267.1 130,267.8 131,268.4 132,269.0 133,269.7 134,270.0 135,270.1 136,270.2 137,270.2 138,270.3 139,270.4 140,270.4 141,270.5 142,270.6 143,270.6 144,270.7 145,270.8 146,270.8 147,270.9 148,271.0 149,270.7 150,270.0 151,269.3 152,268.7 153,268.0 154,268.0 155,268.0 156,268.0 157,268.0 158,268.0 159,268.4 160,268.7 161,269.1 162,269.5 163,269.8 164,269.9 165,269.6 166,269.3 167,269.0 168,268.8 169,268.5 170,268.8 171,269.1 172,269.4 173,269.7 174,270.0 175,267.9 176,265.7 177,263.6 178,262.4 179,262.1 180,261.8 181,261.6 182,261.3 183,261.1 184,260.8 185,260.5 186,260.3 187,260.0 188,259.5 189,259.1 190,258.6 191,258.2 192,257.7 193,257.2 194,256.7 195,256.2 196,255.6 197,255.1 198,254.5 199,254.0 200,252.0 201,249.3 202,245.9" fill="none" stroke="#800000" stroke-width="1.25" stroke-linejoin="round"/>
<path d="M278,138.8 279,138.4 280,137.9 281,137.5 282,137.5 283,137.5 284,137.5 285,137.5 286,138.2 287,138.9 288,139.6 289,140.3 290,141.0 291,140.0 292,139.0 293,138.0 294,137.0 295,136.0 296,136.6 297,137.2 298,137.8 299,138.4 300,139.0 301,138.3 302,137.7 303,137.0 304,136.3 305,135.7 306,135.0 307,134.3 308,134.1 309,134.3 310,134.5 311,134.7 312,134.9 313,135.1 314,135.3 315,135.5 316,135.7 317,135.9 318,135.9 319,135.8 320,135.6 321,135.5 322,135.3 323,135.2 324,135.0 325,134.9 326,134.7 327,134.6 328,134.6 329,134.7 330,134.8 331,134.8 332,134.9 333,135.1 334,135.2 335,135.2 336,135.3 337,135.4 338,135.5 339,135.4 340,135.3 341,135.2 342,135.1 343,135.1 344,135.0 345,134.9 346,134.8 347,134.7 348,134.7 349,134.6 350,134.5 351,134.0 352,133.6 353,133.1 354,132.6 355,132.2 356,131.7 357,131.2 358,130.8 359,130.4 360,130.0 361,129.6 362,129.2 363,128.8 364,128.4 365,128.0 366,128.8 367,129.6 368,130.3 369,131.1 370,131.9 371,132.7 372,133.4 373,134.2 374,135.0 375,134.2 376,133.4 377,132.6 378,131.8 379,131.0 380,131.4 381,131.7 382,132.1 383,132.4 384,132.8 385,133.1 386,133.5 387,133.8 388,134.3 389,135.0 390,135.7 391,136.3 392,137.0 393,137.7 394,138.3 395,139.0 396,139.0 397,139.0 398,139.0 399,139.0 400,139.0 401,139.6 402,140.1 403,140.7 404,141.2 405,141.8 406,142.3 407,142.9 408,143.4 409,144.0 410,145.0 411,146.0 412,147.0 413,148.0 414,149.0 415,150.0 416,151.0 417,150.8 418,150.5 419,150.2 420,150.0 421,152.0 422,154.0 423,156.0 424,158.0 425,160.0 426,160.5 427,161.1 428,161.6 429,162.1 430,162.7 431,163.2 432,163.7 433,163.8 434,163.4 435,162.9 436,162.5 437,163.1 438,163.8 439,164.4 440,165.0 441,165.6 442,166.2 443,166.9 444,167.5 445,167.7 446,168.0 447,168.2 448,168.4 449,168.7 450,168.9 451,169.1 452,169.4 453,169.8 454,170.4 455,171.0 456,171.6 457,172.2 458,172.8 459,173.4 460,174.0 461,173.8 462,173.5 463,173.2 464,173.0 465,172.8 466,172.5 467,172.9 468,173.3 469,173.7 470,174.0 471,174.4 472,174.8 473,174.8 474,174.2 475,173.8 476,173.2 477,172.8 478,172.8 479,173.5 480,174.2 481,174.8 482,175.5 483,176.2 484,176.8 485,177.5 486,177.2 487,176.9 488,176.6 489,176.3 490,176.0 491,176.6 492,177.2 493,177.8 494,178.4 495,179.0 496,179.6 497,180.2 498,180.8 499,181.4 500,182.0 501,181.8 502,181.6 503,181.4 504,181.2 505,181.0 506,180.8 507,180.6 508,180.4 509,180.2 510,180.0 511,179.5 512,179.0 513,178.5 514,178.0 515,177.5 516,178.0 517,178.5 518,179.0 519,179.5 520,180.0 521,179.9 522,179.8 523,179.7 524,179.6 525,179.5 526,179.2 527,178.8 528,178.5 529,178.2 530,177.8 531,177.5 532,177.2 533,176.8 534,176.4 535,176.0 536,175.6 537,175.2 538,174.8 539,174.4 540,174.0 541,173.3 542,172.6 543,171.9 544,171.2 545,170.5 546,169.8 547,169.1 548,168.4 549,167.7 550,167.0 551,166.3 552,165.7 553,165.0 554,164.3 555,163.7 556,163.0 557,162.3 558,161.5 559,160.4 560,159.3 561,158.3 562,157.2 563,156.1 564,155.1 565,154.0 566,153.3 567,152.7 568,152.0 569,151.3 570,150.7 571,150.0 572,149.2 573,148.4 574,147.6 575,146.8 576,146.0 577,144.6 578,143.2 579,141.8 580,140.4 581,139.0 582,138.4 583,137.8 584,137.2 585,136.6 586,136.0 587,136.0 588,136.0 589,136.0 590,136.0 591,136.0 592,136.0 593,136.0 594,136.0 595,138.9 596,141.8 597,144.4 598,146.7 599,149.1 600,151.4 601,153.4 602,155.4 603,157.4 604,159.4 605,161.4 606,163.0 607,164.5 608,166.1 609,167.8 610,169.9 611,171.9 612,174.0 613,176.0 614,178.0 615,180.0 616,181.3 617,182.7 618,184.0 619,185.4 620,186.7 621,188.1 622,189.8 623,191.7 624,193.7 625,195.1 626,196.2 627,197.4 628,198.5 629,199.7 630,201.1 631,202.6 632,204.1 633,205.6 634,207.1 635,208.6 636,210.2 637,211.7 638,213.3 639,214.8 640,216.4 641,217.7 642,218.9 643,220.2 644,221.5 645,222.7 646,223.8 647,224.6 648,225.4 649,226.2 650,226.2 651,225.9 652,225.6 653,225.3 654,225.0 655,224.7 656,224.4 657,225.3 658,226.8 659,228.4 660,230.0 661,231.3 662,232.6 663,233.8 664,235.1 665,235.1 666,234.6 667,234.1 668,233.6 669,233.1 670,234.9 671,237.7 672,240.5 673,243.0 674,243.4 675,243.8 676,244.2 677,244.6 678,245.2 679,246.8 680,248.4 681,250.0 682,250.8 683,251.1 684,251.3 685,251.5 686,251.8 687,252.0 688,251.9 689,251.8 690,251.8 691,251.7 692,251.6 693,251.5 694,251.4 695,252.5 696,254.0 697,255.6 698,257.1 699,258.6 700,260.0" fill="none" stroke="#800000" stroke-width="1.25" stroke-linejoin="round"/>
<path d="M227,201.2 228,199.9 229,198.5 230,197.4 231,196.3 232,195.0 233,193.4 234,191.7 235,190.1 236,188.4 237,186.6 238,184.9 239,183.2 240,181.4 241,179.8 242,178.3 243,176.8 244,175.4 245,174.6 246,173.7 247,172.8 248,172.0 249,170.3 250,168.3 251,166.3 252,164.3 253,162.3 254,160.3 255,158.6 256,156.8 257,155.1 258,153.3 259,151.8 260,150.4 261,149.0 262,148.8 263,148.7 264,148.5 265,148.3 266,148.2 267,148.0 268,147.8 269,147.7 270,147.5 271,146.4 272,145.2 273,144.1 274,143.0 275,141.8 276,140.7 277,139.6 278,138.8 279,139.0 280,139.8 281,140.7 282,141.5 283,142.3 284,143.2 285,144.0 286,145.0 287,146.0 288,147.0 289,148.0 290,149.0 291,150.0 292,151.0 293,152.0 294,153.0 295,154.0 296,154.7 297,155.4 298,156.1 299,156.8 300,157.5 301,158.0 302,158.5 303,159.0 304,159.5 305,160.0 306,160.2 307,160.3 308,160.5 309,160.7 310,160.8 311,161.0 312,161.5 313,162.1 314,162.6 315,163.2 316,163.7 317,164.2 318,164.4 319,164.1 320,163.8 321,163.6 322,163.3 323,163.0 324,162.8 325,162.5 326,162.7 327,162.8 328,162.9 329,163.1 330,163.2 331,163.4 332,163.6 333,163.7 334,163.8 335,164.0 336,164.0 337,164.0 338,164.0 339,164.0 340,164.0 341,164.0 342,164.0 343,163.9 344,163.7 345,163.5 346,163.3 347,163.1 348,162.9 349,162.7 350,162.5 351,162.2 352,161.8 353,161.5 354,161.2 355,160.8 356,160.5 357,160.2 358,159.9 359,159.6 360,159.3 361,159.1 362,158.8 363,158.5 364,158.3 365,158.0 366,158.9 367,159.8 368,160.7 369,161.6 370,162.4 371,163.3 372,164.2 373,165.1 374,166.0 375,165.2 376,164.4 377,163.6 378,162.8 379,162.0 380,162.3 381,162.6 382,162.9 383,163.2 384,163.5 385,163.8 386,164.1 387,164.4 388,164.9 389,165.7 390,166.5 391,167.3 392,168.1 393,168.9 394,169.7 395,170.5 396,170.8 397,171.2 398,171.5 399,171.8 400,172.2 401,172.5 402,172.8 403,173.3 404,174.0 405,174.7 406,175.3 407,176.0 408,176.7 409,177.3 410,178.0 411,178.9 412,179.9 413,180.8 414,181.7 415,182.7 416,183.6 417,184.5 418,185.7 419,187.1 420,188.5 421,189.8 422,191.2 423,192.6 424,194.0 425,193.7 426,193.4 427,193.1 428,193.3 429,193.9 430,194.5 431,195.1 432,195.7 433,196.0 434,196.0 435,196.0 436,196.0 437,196.5 438,197.0 439,197.5 440,198.0 441,198.5 442,199.0 443,199.5 444,200.0 445,200.3 446,200.6 447,200.9 448,201.2 449,201.5 450,201.8 451,202.1 452,202.4 453,202.8 454,203.4 455,204.0 456,204.6 457,205.2 458,205.8 459,206.4 460,207.0 461,206.8 462,206.5 463,206.2 464,206.0 465,205.8 466,205.5 467,206.0 468,206.6 469,207.1 470,207.7 471,208.2 472,208.7 473,208.7 474,208.1 475,207.5 476,206.9 477,206.3 478,206.3 479,207.0 480,207.7 481,208.3 482,209.0 483,209.7 484,210.3 485,211.0 486,210.7 487,210.4 488,210.1 489,209.8 490,209.5 491,209.9 492,210.4 493,210.8 494,211.3 495,211.8 496,212.2 497,212.7 498,213.1 499,213.6 500,214.0 501,213.7 502,213.4 503,213.1 504,212.8 505,212.5 506,212.2 507,211.9 508,211.6 509,211.3 510,211.0 511,210.6 512,210.2 513,209.8 514,209.4 515,209.0 516,209.7 517,210.4 518,211.1 519,211.8 520,212.5 521,212.2 522,211.9 523,211.6 524,211.3 525,211.0 526,210.5 527,210.1 528,209.6 529,209.1 530,208.7 531,208.2 532,207.7 533,207.3 534,207.0 535,206.7 536,206.3 537,206.0 538,205.7 539,205.3 540,205.0 541,203.8 542,202.6 543,201.4 544,200.2 545,199.0 546,198.0 547,197.0 548,196.0 549,195.0 550,194.0 551,192.8 552,191.6 553,190.4 554,189.2 555,188.0 556,186.8 557,185.6 558,184.2 559,182.5 560,180.8 561,179.2 562,177.5 563,175.8 564,174.2 565,172.5 566,171.5 567,170.5 568,169.5 569,168.5 570,167.5 571,166.5 572,165.0 573,163.5 L573,163.5 572,166.5 571,168.8 570,171.0 569,173.3 568,175.6 567,177.9 566,180.2 565,182.5 564,186.0 563,189.5 562,193.0 561,196.5 560,200.0 559,203.2 558,206.4 557,209.6 556,212.8 555,216.0 554,219.3 553,222.6 552,225.9 551,229.2 550,232.5 549,235.4 548,238.3 547,241.2 546,244.2 545,247.1 544,250.0 543,253.0 542,256.0 541,259.0 540,262.0 539,265.0 538,268.0 537,271.0 536,274.0 535,277.0 534,280.0 533,282.4 532,284.8 531,287.2 530,289.6 529,292.0 528,293.2 527,294.5 526,295.8 525,297.0 524,298.8 523,300.5 522,302.2 521,304.0 520,305.0 519,306.0 518,307.0 517,308.0 516,309.0 515,310.4 514,311.8 513,313.2 512,314.7 511,316.1 510,317.5 509,318.4 508,319.2 507,320.1 506,321.0 505,321.8 504,322.7 503,323.6 502,324.1 501,324.4 500,324.7 499,324.9 498,325.2 497,325.5 496,325.7 495,326.0 494,326.7 493,327.3 492,328.0 491,328.7 490,329.3 489,330.0 488,330.7 487,331.1 486,331.3 485,331.5 484,331.7 483,331.9 482,332.1 481,332.3 480,332.5 479,333.2 478,333.8 477,334.5 476,335.2 475,335.8 474,336.5 473,337.2 472,337.6 471,337.8 470,338.0 469,338.2 468,338.4 467,338.6 466,338.8 465,339.0 464,339.1 463,339.1 462,339.1 461,339.2 460,339.2 459,339.3 458,339.4 457,339.4 456,339.4 455,339.5 454,339.4 453,339.4 452,339.4 451,339.3 450,339.2 449,339.2 448,339.1 447,339.1 446,339.1 445,339.0 444,338.8 443,338.6 442,338.3 441,338.1 440,337.9 439,337.7 438,337.4 437,337.2 436,337.0 435,337.6 434,338.1 433,338.7 432,338.7 431,338.0 430,337.3 429,336.7 428,336.0 427,335.3 426,334.7 425,334.0 424,332.9 423,331.9 422,330.8 421,329.7 420,328.7 419,327.6 418,326.5 417,325.4 416,324.3 415,323.2 414,322.0 413,320.9 412,319.8 411,318.6 410,317.5 409,317.0 408,316.6 407,316.1 406,315.6 405,315.2 404,314.7 403,314.2 402,313.9 401,313.7 400,313.5 399,313.3 398,313.1 397,312.9 396,312.7 395,312.5 394,311.6 393,310.8 392,309.9 391,309.0 390,308.2 389,307.3 388,306.4 387,305.9 386,305.6 385,305.3 384,305.1 383,304.8 382,304.5 381,304.3 380,304.0 379,304.5 378,305.0 377,305.5 376,306.0 375,306.5 374,307.0 373,306.1 372,305.2 371,304.3 370,303.4 369,302.6 368,301.7 367,300.8 366,299.9 365,299.0 364,299.2 363,299.3 362,299.5 361,299.7 360,299.8 359,300.0 358,299.7 357,299.4 356,299.2 355,298.9 354,298.6 353,298.3 352,298.1 351,297.8 350,297.5 349,297.1 348,296.8 347,296.4 346,296.1 345,295.8 344,295.4 343,295.1 342,294.7 341,294.4 340,294.0 339,293.6 338,293.1 337,292.7 336,292.2 335,291.8 334,291.3 333,290.9 332,290.4 331,290.0 330,289.8 329,289.5 328,289.3 327,289.1 326,288.8 325,288.6 324,288.4 323,288.1 322,287.5 321,286.6 320,285.7 319,284.7 318,283.8 317,282.9 316,281.9 315,281.0 314,279.6 313,278.2 312,276.8 311,275.4 310,274.0 309,272.6 308,271.2 307,269.6 306,267.9 305,266.2 304,264.4 303,262.7 302,261.0 301,259.2 300,257.5 299,255.5 298,253.5 297,251.5 296,249.5 295,247.5 294,245.5 293,243.5 292,241.5 291,239.5 290,237.5 289,235.5 288,233.5 287,231.5 286,229.5 285,227.5 284,225.5 283,223.5 282,221.5 281,219.5 280,217.5 279,215.5 278,215.1 277,214.8 276,214.4 275,214.0 274,212.5 273,210.9 272,209.4 271,207.9 270,206.3 269,204.8 268,203.3 267,201.7 266,200.2 265,198.7 264,197.1 263,195.6 262,194.1 261,192.5 260,191.0 259,190.3 258,189.6 257,188.9 256,188.2 255,187.5 254,187.8 253,188.2 252,188.5 251,188.8 250,189.2 249,189.5 248,189.0 247,188.6 246,188.1 245,187.6 244,187.1 243,186.7 242,186.2 241,185.7 240,185.8 239,187.1 238,188.5 237,189.8 236,191.1 235,192.5 234,193.8 233,195.0 232,196.1 231,197.2 230,198.3 229,199.4 228,200.5 227,201.2Z" fill="#ee7006" stroke="#773803" stroke-width="1.25" stroke-linejoin="round"/>
<path d="M0,157.0 1,157.6 2,158.1 3,159.0 4,163.1 5,167.2 6,171.4 7,174.4 8,176.7 9,179.0 10,181.4 11,183.6 12,185.5 13,187.5 14,189.4 15,190.9 16,192.2 17,193.6 18,194.9 19,196.2 20,197.5 21,198.8 22,200.1 23,201.4 24,202.8 25,204.1 26,205.4 27,206.6 28,207.8 29,209.0 30,210.2 31,211.4 32,212.6 33,213.9 34,215.2 35,216.4 36,217.7 37,219.0 38,220.2 39,221.5 40,222.9 41,224.2 42,225.6 43,226.9 44,228.3 45,229.6 46,231.0 47,232.0 48,233.0 49,234.0 50,235.0 51,234.8 52,234.5 53,234.2 54,234.0 55,234.3 56,234.6 57,234.9 58,235.1 59,235.4 60,235.7 61,236.0 62,237.2 63,238.5 64,239.7 65,240.9 66,242.2 67,243.4 68,244.5 69,245.4 70,246.3 71,247.3 72,248.2 73,249.1 74,250.1 75,251.0 76,251.7 77,252.3 78,253.0 79,253.7 80,254.3 81,255.0 82,255.7 83,256.0 84,256.1 85,256.2 86,256.2 87,256.3 88,256.4 89,256.4 90,256.5 91,257.5 92,258.5 93,259.5 94,260.5 95,261.5 96,262.6 97,263.7 98,264.9 99,266.0 100,267.1 101,268.2 102,269.3 103,270.4 104,270.9 105,270.6 106,270.3 107,270.1 108,269.8 109,269.5 110,269.3 111,269.0 112,269.2 113,269.3 114,269.5 115,269.6 116,269.8 117,269.9 118,270.4 119,271.2 120,271.9 121,272.7 122,273.5 123,274.2 124,275.0 125,274.2 126,273.5 127,272.8 128,272.0 129,272.6 130,273.3 131,273.9 132,274.5 133,275.2 134,275.5 135,275.6 136,275.7 137,275.7 138,275.8 139,275.9 140,275.9 141,276.0 142,276.1 143,276.1 144,276.2 145,276.3 146,276.3 147,276.4 148,276.5 149,276.0 150,275.0 151,274.0 152,273.0 153,272.0 154,272.0 155,272.0 156,272.0 157,272.0 158,272.0 159,272.5 160,272.9 161,273.4 162,273.8 163,274.3 164,274.4 165,274.1 166,273.8 167,273.5 168,273.3 169,273.0 170,273.5 171,274.0 172,274.5 173,275.0 174,275.5 175,272.9 176,270.2 177,267.6 178,266.1 179,265.8 180,265.5 181,265.2 182,264.9 183,264.6 184,264.2 185,263.9 186,263.6 187,263.3 188,262.8 189,262.3 190,261.9 191,261.4 192,260.9 193,260.4 194,259.8 195,258.9 196,258.1 197,257.2 198,256.4 199,255.5 200,252.9 201,250.3 202,245.9 203,242.5 204,240.8 205,239.0 206,237.2 207,235.5 208,233.9 209,232.3 210,230.7 211,229.1 212,227.5 213,225.2 214,222.8 215,220.5 216,218.0 217,215.5 218,215.0 219,214.5 220,214.0 221,211.5 222,209.0 223,207.3 224,205.7 225,204.0 226,202.6 227,201.2 228,200.5 229,199.4 230,198.3 231,197.2 232,196.1 233,195.0 234,193.8 235,192.5 236,191.1 237,189.8 238,188.5 239,187.1 240,185.8 241,185.7 242,186.2 243,186.7 244,187.1 245,187.6 246,188.1 247,188.6 248,189.0 249,189.5 250,189.2 251,188.8 252,188.5 253,188.2 254,187.8 255,187.5 256,188.2 257,188.9 258,189.6 259,190.3 260,191.0 261,192.5 262,194.1 263,195.6 264,197.1 265,198.7 266,200.2 267,201.7 268,203.3 269,204.8 270,206.3 271,207.9 272,209.4 273,210.9 274,212.5 275,214.0 276,214.4 277,214.8 278,215.1 279,215.5 280,217.5 281,219.5 282,221.5 283,223.5 284,225.5 285,227.5 286,229.5 287,231.5 288,233.5 289,235.5 290,237.5 291,239.5 292,241.5 293,243.5 294,245.5 295,247.5 296,249.5 297,251.5 298,253.5 299,255.5 300,257.5 301,259.2 302,261.0 303,262.7 304,264.4 305,266.2 306,267.9 307,269.6 308,271.2 309,272.6 310,274.0 311,275.4 312,276.8 313,278.2 314,279.6 315,281.0 316,281.9 317,282.9 318,283.8 319,284.7 320,285.7 321,286.6 322,287.5 323,288.1 324,288.4 325,288.6 326,288.8 327,289.1 328,289.3 329,289.5 330,289.8 331,290.0 332,290.4 333,290.9 334,291.3 335,291.8 336,292.2 337,292.7 338,293.1 339,293.6 340,294.0 341,294.4 342,294.7 343,295.1 344,295.4 345,295.8 346,296.1 347,296.4 348,296.8 349,297.1 350,297.5 351,297.8 352,298.1 353,298.3 354,298.6 355,298.9 356,299.2 357,299.4 358,299.7 359,300.0 360,299.8 361,299.7 362,299.5 363,299.3 364,299.2 365,299.0 366,299.9 367,300.8 368,301.7 369,302.6 370,303.4 371,304.3 372,305.2 373,306.1 374,307.0 375,306.5 376,306.0 377,305.5 378,305.0 379,304.5 380,304.0 381,304.3 382,304.5 383,304.8 384,305.1 385,305.3 386,305.6 387,305.9 388,306.4 389,307.3 390,308.2 391,309.0 392,309.9 393,310.8 394,311.6 395,312.5 396,312.7 397,312.9 398,313.1 399,313.3 400,313.5 401,313.7 402,313.9 403,314.2 404,314.7 405,315.2 406,315.6 407,316.1 408,316.6 409,317.0 410,317.5 411,318.6 412,319.8 413,320.9 414,322.0 415,323.2 416,324.3 417,325.4 418,326.5 419,327.6 420,328.7 421,329.7 422,330.8 423,331.9 424,332.9 425,334.0 426,334.7 427,335.3 428,336.0 429,336.7 430,337.3 431,338.0 432,338.7 433,338.7 434,338.1 435,337.6 436,337.0 437,337.2 438,337.4 439,337.7 440,337.9 441,338.1 442,338.3 443,338.6 444,338.8 445,339.0 446,339.1 447,339.1 448,339.1 449,339.2 450,339.2 451,339.3 452,339.4 453,339.4 454,339.4 455,339.5 456,339.4 457,339.4 458,339.4 459,339.3 460,339.2 461,339.2 462,339.1 463,339.1 464,339.1 465,339.0 466,338.8 467,338.6 468,338.4 469,338.2 470,338.0 471,337.8 472,337.6 473,337.2 474,336.5 475,335.8 476,335.2 477,334.5 478,333.8 479,333.2 480,332.5 481,332.3 482,332.1 483,331.9 484,331.7 485,331.5 486,331.3 487,331.1 488,330.7 489,330.0 490,329.3 491,328.7 492,328.0 493,327.3 494,326.7 495,326.0 496,325.7 497,325.5 498,325.2 499,324.9 500,324.7 501,324.4 502,324.1 503,323.6 504,322.7 505,321.8 506,321.0 507,320.1 508,319.2 509,318.4 510,317.5 511,316.1 512,314.7 513,313.2 514,311.8 515,310.4 516,309.0 517,308.0 518,307.0 519,306.0 520,305.0 521,304.0 522,302.2 523,300.5 524,298.8 525,297.0 526,295.8 527,294.5 528,293.2 529,292.0 530,289.6 531,287.2 532,284.8 533,282.4 534,280.0 535,277.0 536,274.0 537,271.0 538,268.0 539,265.0 540,262.0 541,259.0 542,256.0 543,253.0 544,250.0 545,247.1 546,244.2 547,241.2 548,238.3 549,235.4 550,232.5 551,229.2 552,225.9 553,222.6 554,219.3 555,216.0 556,212.8 557,209.6 558,206.4 559,203.2 560,200.0 561,196.5 562,193.0 563,189.5 564,186.0 565,182.5 566,180.2 567,177.9 568,175.6 569,173.3 570,171.0 571,168.8 572,166.5 573,163.5 574,162.0 575,160.5 576,159.0 577,157.6 578,156.2 579,154.8 580,153.5 581,152.1 582,150.7 583,149.7 584,149.1 585,148.6 586,148.0 587,147.9 588,147.9 589,147.8 590,147.8 591,147.7 592,147.6 593,147.6 594,147.5 595,150.7 596,153.7 597,156.0 598,158.4 599,160.7 600,162.6 601,164.3 602,166.0 603,167.7 604,169.3 605,171.0 606,172.6 607,174.3 608,176.2 609,178.1 610,180.0 611,181.6 612,183.3 613,184.9 614,186.5 615,188.6 616,190.9 617,193.3 618,195.6 619,197.9 620,199.4 621,200.5 622,201.7 623,202.8 624,204.0 625,205.3 626,206.8 627,208.2 628,209.7 629,211.1 630,212.6 631,214.1 632,215.6 633,217.2 634,218.7 635,220.3 636,221.8 637,223.2 638,224.6 639,226.0 640,227.4 641,228.7 642,230.1 643,231.4 644,232.7 645,234.1 646,235.4 647,236.7 648,237.8 649,237.0 650,236.2 651,235.3 652,234.9 653,234.8 654,234.7 655,234.6 656,234.4 657,234.3 658,236.2 659,238.1 660,240.0 661,241.5 662,243.0 663,244.5 664,246.0 665,246.0 666,245.4 667,244.9 668,244.3 669,243.8 670,245.5 671,248.3 672,251.1 673,253.6 674,253.9 675,254.2 676,254.5 677,254.7 678,255.2 679,256.7 680,258.2 681,259.3 682,259.4 683,259.5 684,259.5 685,259.6 686,259.7 687,259.8 688,259.8 689,259.9 690,260.0 691,260.2 692,260.4 693,260.6 694,260.8 695,261.0 696,262.8 697,264.6 698,266.4 699,268.2 700,270.0 L700,565 L0,565Z" fill="#f3e9b5" stroke="none"/>
<path d="M0,157.0 1,157.6 2,158.1 3,159.0 4,163.1 5,167.2 6,171.4 7,174.4 8,176.7 9,179.0 10,181.4 11,183.6 12,185.5 13,187.5 14,189.4 15,190.9 16,192.2 17,193.6 18,194.9 19,196.2 20,197.5 21,198.8 22,200.1 23,201.4 24,202.8 25,204.1 26,205.4 27,206.6 28,207.8 29,209.0 30,210.2 31,211.4 32,212.6 33,213.9 34,215.2 35,216.4 36,217.7 37,219.0 38,220.2 39,221.5 40,222.9 41,224.2 42,225.6 43,226.9 44,228.3 45,229.6 46,231.0 47,232.0 48,233.0 49,234.0 50,235.0 51,234.8 52,234.5 53,234.2 54,234.0 55,234.3 56,234.6 57,234.9 58,235.1 59,235.4 60,235.7 61,236.0 62,237.2 63,238.5 64,239.7 65,240.9 66,242.2 67,243.4 68,244.5 69,245.4 70,246.3 71,247.3 72,248.2 73,249.1 74,250.1 75,251.0 76,251.7 77,252.3 78,253.0 79,253.7 80,254.3 81,255.0 82,255.7 83,256.0 84,256.1 85,256.2 86,256.2 87,256.3 88,256.4 89,256.4 90,256.5 91,257.5 92,258.5 93,259.5 94,260.5 95,261.5 96,262.6 97,263.7 98,264.9 99,266.0 100,267.1 101,268.2 102,269.3 103,270.4 104,270.9 105,270.6 106,270.3 107,270.1 108,269.8 109,269.5 110,269.3 111,269.0 112,269.2 113,269.3 114,269.5 115,269.6 116,269.8 117,269.9 118,270.4 119,271.2 120,271.9 121,272.7 122,273.5 123,274.2 124,275.0 125,274.2 126,273.5 127,272.8 128,272.0 129,272.6 130,273.3 131,273.9 132,274.5 133,275.2 134,275.5 135,275.6 136,275.7 137,275.7 138,275.8 139,275.9 140,275.9 141,276.0 142,276.1 143,276.1 144,276.2 145,276.3 146,276.3 147,276.4 148,276.5 149,276.0 150,275.0 151,274.0 152,273.0 153,272.0 154,272.0 155,272.0 156,272.0 157,272.0 158,272.0 159,272.5 160,272.9 161,273.4 162,273.8 163,274.3 164,274.4 165,274.1 166,273.8 167,273.5 168,273.3 169,273.0 170,273.5 171,274.0 172,274.5 173,275.0 174,275.5 175,272.9 176,270.2 177,267.6 178,266.1 179,265.8 180,265.5 181,265.2 182,264.9 183,264.6 184,264.2 185,263.9 186,263.6 187,263.3 188,262.8 189,262.3 190,261.9 191,261.4 192,260.9 193,260.4 194,259.8 195,258.9 196,258.1 197,257.2 198,256.4 199,255.5 200,252.9 201,250.3 202,245.9 203,242.5 204,240.8 205,239.0 206,237.2 207,235.5 208,233.9 209,232.3 210,230.7 211,229.1 212,227.5 213,225.2 214,222.8 215,220.5 216,218.0 217,215.5 218,215.0 219,214.5 220,214.0 221,211.5 222,209.0 223,207.3 224,205.7 225,204.0 226,202.6 227,201.2 228,200.5 229,199.4 230,198.3 231,197.2 232,196.1 233,195.0 234,193.8 235,192.5 236,191.1 237,189.8 238,188.5 239,187.1 240,185.8 241,185.7 242,186.2 243,186.7 244,187.1 245,187.6 246,188.1 247,188.6 248,189.0 249,189.5 250,189.2 251,188.8 252,188.5 253,188.2 254,187.8 255,187.5 256,188.2 257,188.9 258,189.6 259,190.3 260,191.0 261,192.5 262,194.1 263,195.6 264,197.1 265,198.7 266,200.2 267,201.7 268,203.3 269,204.8 270,206.3 271,207.9 272,209.4 273,210.9 274,212.5 275,214.0 276,214.4 277,214.8 278,215.1 279,215.5 280,217.5 281,219.5 282,221.5 283,223.5 284,225.5 285,227.5 286,229.5 287,231.5 288,233.5 289,235.5 290,237.5 291,239.5 292,241.5 293,243.5 294,245.5 295,247.5 296,249.5 297,251.5 298,253.5 299,255.5 300,257.5 301,259.2 302,261.0 303,262.7 304,264.4 305,266.2 306,267.9 307,269.6 308,271.2 309,272.6 310,274.0 311,275.4 312,276.8 313,278.2 314,279.6 315,281.0 316,281.9 317,282.9 318,283.8 319,284.7 320,285.7 321,286.6 322,287.5 323,288.1 324,288.4 325,288.6 326,288.8 327,289.1 328,289.3 329,289.5 330,289.8 331,290.0 332,290.4 333,290.9 334,291.3 335,291.8 336,292.2 337,292.7 338,293.1 339,293.6 340,294.0 341,294.4 342,294.7 343,295.1 344,295.4 345,295.8 346,296.1 347,296.4 348,296.8 349,297.1 350,297.5 351,297.8 352,298.1 353,298.3 354,298.6 355,298.9 356,299.2 357,299.4 358,299.7 359,300.0 360,299.8 361,299.7 362,299.5 363,299.3 364,299.2 365,299.0 366,299.9 367,300.8 368,301.7 369,302.6 370,303.4 371,304.3 372,305.2 373,306.1 374,307.0 375,306.5 376,306.0 377,305.5 378,305.0 379,304.5 380,304.0 381,304.3 382,304.5 383,304.8 384,305.1 385,305.3 386,305.6 387,305.9 388,306.4 389,307.3 390,308.2 391,309.0 392,309.9 393,310.8 394,311.6 395,312.5 396,312.7 397,312.9 398,313.1 399,313.3 400,313.5 401,313.7 402,313.9 403,314.2 404,314.7 405,315.2 406,315.6 407,316.1 408,316.6 409,317.0 410,317.5 411,318.6 412,319.8 413,320.9 414,322.0 415,323.2 416,324.3 417,325.4 418,326.5 419,327.6 420,328.7 421,329.7 422,330.8 423,331.9 424,332.9 425,334.0 426,334.7 427,335.3 428,336.0 429,336.7 430,337.3 431,338.0 432,338.7 433,338.7 434,338.1 435,337.6 436,337.0 437,337.2 438,337.4 439,337.7 440,337.9 441,338.1 442,338.3 443,338.6 444,338.8 445,339.0 446,339.1 447,339.1 448,339.1 449,339.2 450,339.2 451,339.3 452,339.4 453,339.4 454,339.4 455,339.5 456,339.4 457,339.4 458,339.4 459,339.3 460,339.2 461,339.2 462,339.1 463,339.1 464,339.1 465,339.0 466,338.8 467,338.6 468,338.4 469,338.2 470,338.0 471,337.8 472,337.6 473,337.2 474,336.5 475,335.8 476,335.2 477,334.5 478,333.8 479,333.2 480,332.5 481,332.3 482,332.1 483,331.9 484,331.7 485,331.5 486,331.3 487,331.1 488,330.7 489,330.0 490,329.3 491,328.7 492,328.0 493,327.3 494,326.7 495,326.0 496,325.7 497,325.5 498,325.2 499,324.9 500,324.7 501,324.4 502,324.1 503,323.6 504,322.7 505,321.8 506,321.0 507,320.1 508,319.2 509,318.4 510,317.5 511,316.1 512,314.7 513,313.2 514,311.8 515,310.4 516,309.0 517,308.0 518,307.0 519,306.0 520,305.0 521,304.0 522,302.2 523,300.5 524,298.8 525,297.0 526,295.8 527,294.5 528,293.2 529,292.0 530,289.6 531,287.2 532,284.8 533,282.4 534,280.0 535,277.0 536,274.0 537,271.0 538,268.0 539,265.0 540,262.0 541,259.0 542,256.0 543,253.0 544,250.0 545,247.1 546,244.2 547,241.2 548,238.3 549,235.4 550,232.5 551,229.2 552,225.9 553,222.6 554,219.3 555,216.0 556,212.8 557,209.6 558,206.4 559,203.2 560,200.0 561,196.5 562,193.0 563,189.5 564,186.0 565,182.5 566,180.2 567,177.9 568,175.6 569,173.3 570,171.0 571,168.8 572,166.5 573,163.5 574,162.0 575,160.5 576,159.0 577,157.6 578,156.2 579,154.8 580,153.5 581,152.1 582,150.7 583,149.7 584,149.1 585,148.6 586,148.0 587,147.9 588,147.9 589,147.8 590,147.8 591,147.7 592,147.6 593,147.6 594,147.5 595,150.7 596,153.7 597,156.0 598,158.4 599,160.7 600,162.6 601,164.3 602,166.0 603,167.7 604,169.3 605,171.0 606,172.6 607,174.3 608,176.2 609,178.1 610,180.0 611,181.6 612,183.3 613,184.9 614,186.5 615,188.6 616,190.9 617,193.3 618,195.6 619,197.9 620,199.4 621,200.5 622,201.7 623,202.8 624,204.0 625,205.3 626,206.8 627,208.2 628,209.7 629,211.1 630,212.6 631,214.1 632,215.6 633,217.2 634,218.7 635,220.3 636,221.8 637,223.2 638,224.6 639,226.0 640,227.4 641,228.7 642,230.1 643,231.4 644,232.7 645,234.1 646,235.4 647,236.7 648,237.8 649,237.0 650,236.2 651,235.3 652,234.9 653,234.8 654,234.7 655,234.6 656,234.4 657,234.3 658,236.2 659,238.1 660,240.0 661,241.5 662,243.0 663,244.5 664,246.0 665,246.0 666,245.4 667,244.9 668,244.3 669,243.8 670,245.5 671,248.3 672,251.1 673,253.6 674,253.9 675,254.2 676,254.5 677,254.7 678,255.2 679,256.7 680,258.2 681,259.3 682,259.4 683,259.5 684,259.5 685,259.6 686,259.7 687,259.8 688,259.8 689,259.9 690,260.0 691,260.2 692,260.4 693,260.6 694,260.8 695,261.0 696,262.8 697,264.6 698,266.4 699,268.2 700,270.0" fill="none" stroke="#6e6436" stroke-width="1.25" stroke-linejoin="round"/>
<path d="M0,202.5 1,200.4 2,198.2 3,196.1 4,194.0 5,197.9 6,201.7 7,205.6 8,208.8 9,211.2 10,213.8 11,216.2 12,218.8 13,220.8 14,222.3 15,223.8 16,225.4 17,226.9 18,228.5 19,230.0 20,231.2 21,232.4 22,233.6 23,234.8 24,236.0 25,236.0 26,236.0 27,236.0 28,236.0 29,236.0 30,237.4 31,238.8 32,240.2 33,241.6 34,243.0 35,244.7 36,246.3 37,248.0 38,249.7 39,251.3 40,253.0 41,254.4 42,255.8 43,257.2 44,258.6 45,260.0 46,263.1 47,266.2 48,269.4 49,272.5 50,274.0 51,275.5 52,277.0 53,278.5 54,280.0 55,281.2 56,282.5 57,283.8 58,285.0 59,286.2 60,287.5 61,288.5 62,289.5 63,290.5 64,291.5 65,292.5 66,293.5 67,294.5 68,295.3 69,296.0 70,296.7 71,297.3 72,298.0 73,298.7 74,299.3 75,300.0 76,300.5 77,301.0 78,301.5 79,302.0 80,302.5 81,301.9 82,301.3 83,301.1 84,301.3 85,301.5 86,301.7 87,301.9 88,302.1 89,302.3 90,302.5 91,303.3 92,304.2 93,305.0 94,305.8 95,306.7 96,307.5 97,308.1 98,308.8 99,309.4 100,310.0 101,310.6 102,311.2 103,311.9 104,312.5 105,313.2 106,313.9 107,314.6 108,315.3 109,316.0 110,315.8 111,315.7 112,315.5 113,315.3 114,315.2 115,315.0 116,315.1 117,315.3 118,315.4 119,315.5 120,315.7 121,315.8 122,315.9 123,315.8 124,315.5 125,315.2 126,314.9 127,314.6 128,314.3 129,314.0 130,314.3 131,314.6 132,314.9 133,315.1 134,315.4 135,315.7 136,316.0 137,316.4 138,316.9 139,317.3 140,317.8 141,318.2 142,318.6 143,319.1 144,319.5 145,319.4 146,319.3 147,319.2 148,319.2 149,319.1 150,319.0 151,318.5 152,318.0 153,317.5 154,317.0 155,316.5 156,316.0 157,316.5 158,316.9 159,317.4 160,317.8 161,318.3 162,318.8 163,318.8 164,318.3 165,317.8 166,317.4 167,316.9 168,316.5 169,316.0 170,316.5 171,317.0 172,317.5 173,318.0 174,318.5 175,319.0 176,317.4 177,315.8 178,314.2 179,312.6 180,311.0 181,310.2 182,309.5 183,308.8 184,308.0 185,308.6 186,309.1 187,309.7 188,309.6 189,308.8 190,308.1 191,307.3 192,306.5 193,305.8 194,305.0 195,304.0 196,303.0 197,302.0 198,301.0 199,300.0 200,298.0 201,296.0 202,294.0 203,292.0 204,290.0 205,287.9 206,285.8 207,283.8 208,281.7 209,279.6 210,277.5 211,274.2 212,270.9 213,267.6 214,264.3 215,261.0 216,260.6 217,260.2 218,259.8 219,259.4 220,259.0 221,257.2 222,255.4 223,253.6 224,251.8 225,250.0 226,248.2 227,246.3 228,244.5 229,242.7 230,240.8 231,239.0 232,237.8 233,236.7 234,235.6 235,234.4 236,233.2 237,232.1 238,230.9 239,229.8 240,228.7 241,227.5 242,227.9 243,228.2 244,228.6 245,229.0 246,229.4 247,229.8 248,230.1 249,230.5 250,229.8 251,229.0 252,228.2 253,227.5 254,226.8 255,226.0 256,226.8 257,227.7 258,228.5 259,229.3 260,230.2 261,231.0 262,233.2 263,235.3 264,237.5 265,239.6 266,241.8 267,243.9 268,245.7 269,247.1 270,248.5 271,249.8 272,251.2 273,252.6 274,254.0 275,253.7 276,253.4 277,253.1 278,252.8 279,252.5 280,254.8 281,257.0 282,259.2 283,261.5 284,263.8 285,266.0 286,268.1 287,270.2 288,272.3 289,274.4 290,276.5 291,278.6 292,280.8 293,282.9 294,285.0 295,287.2 296,289.3 297,291.4 298,293.3 299,294.8 300,296.3 301,297.9 302,299.4 303,300.9 304,302.5 305,304.0 306,305.3 307,306.7 308,308.0 309,309.3 310,310.7 311,312.0 312,313.3 313,314.7 314,316.2 315,317.7 316,319.1 317,320.6 318,322.1 319,323.5 320,325.0 321,323.5 322,322.0 323,320.5 324,319.0 325,317.5 326,316.0 327,317.3 328,318.6 329,319.9 330,321.2 331,322.5 332,322.2 333,321.9 334,321.6 335,321.2 336,320.9 337,320.6 338,320.3 339,320.0 340,321.1 341,322.3 342,323.4 343,323.6 344,322.7 345,321.9 346,321.0 347,322.0 348,323.0 349,324.0 350,325.0 351,323.8 352,322.6 353,321.4 354,320.2 355,319.0 356,319.5 357,320.0 358,320.5 359,321.0 360,320.7 361,320.3 362,320.0 363,319.7 364,319.3 365,319.0 366,319.7 367,320.3 368,321.0 369,321.7 370,322.3 371,323.0 372,323.7 373,324.3 374,325.0 375,324.5 376,324.1 377,323.6 378,323.1 379,322.6 380,322.2 381,321.7 382,321.2 383,321.3 384,321.9 385,322.5 386,323.1 387,323.7 388,324.4 389,325.2 390,326.0 391,326.8 392,327.6 393,328.4 394,329.2 395,330.0 396,330.1 397,330.1 398,330.2 399,330.3 400,330.3 401,330.4 402,330.5 403,330.7 404,331.2 405,331.7 406,332.1 407,332.6 408,333.1 409,333.5 410,334.0 411,334.8 412,335.6 413,336.4 414,337.2 415,338.0 416,338.8 417,339.6 418,340.4 419,341.2 420,341.9 421,342.7 422,343.5 423,344.2 424,345.0 425,343.3 426,341.6 427,339.9 428,339.2 429,339.6 430,340.0 431,340.4 432,340.8 433,340.8 434,340.4 435,339.9 436,339.5 437,339.9 438,340.2 439,340.6 440,341.0 441,341.4 442,341.8 443,342.1 444,342.5 445,342.9 446,343.2 447,343.6 448,343.9 449,344.2 450,344.6 451,344.9 452,345.3 453,345.6 454,346.0 455,345.7 456,345.3 457,345.0 458,344.7 459,344.3 460,344.0 461,344.1 462,344.2 463,344.2 464,344.3 465,344.4 466,344.5 467,345.0 468,345.4 469,345.9 470,346.3 471,346.8 472,347.3 473,347.8 474,348.3 475,348.8 476,349.4 477,349.9 478,350.5 479,351.0 480,350.5 481,350.0 482,349.5 483,349.0 484,348.5 485,348.0 486,347.5 487,346.9 488,346.2 489,345.6 490,345.0 491,344.4 492,343.8 493,343.1 494,342.5 495,343.4 496,344.3 497,345.1 498,346.0 499,346.9 500,347.8 501,348.7 502,349.6 503,349.6 504,348.8 505,348.0 506,347.2 507,346.4 508,345.6 509,344.8 510,344.0 511,342.5 512,341.0 513,339.5 514,338.0 515,336.5 516,335.0 517,334.2 518,333.4 519,332.6 520,331.8 521,331.0 522,331.9 523,332.8 524,333.6 525,334.5 526,332.6 527,330.7 528,328.8 529,326.9 530,325.0 531,323.0 532,321.0 533,319.0 534,317.0 535,315.0 536,313.0 537,311.0 538,309.0 539,307.0 540,305.0 541,302.5 542,300.0 543,297.5 544,295.0 545,292.5 546,289.5 547,286.5 548,283.5 549,280.5 550,277.5 551,274.0 552,270.5 553,267.0 554,263.5 555,260.0 556,258.1 557,256.2 558,254.4 559,252.5 560,249.4 561,246.3 562,243.2 563,240.2 564,237.1 565,234.0 566,231.8 567,229.5 568,227.2 569,225.0 570,224.7 571,224.4 572,224.1 573,225.0 574,227.0 575,229.0 576,231.0 577,233.0 578,233.5 579,232.5 580,231.5 581,230.5 582,229.5 583,228.5 584,227.5 585,226.5 586,225.5 587,224.5 588,223.8 589,223.4 590,223.0 591,222.6 592,222.2 593,221.8 594,221.4 595,221.0 596,220.5 597,220.0 598,219.5 599,219.0 600,216.7 601,214.4 602,212.1 603,212.1 604,214.4 605,216.7 606,219.0 607,221.2 608,223.4 609,225.6 610,227.8 611,230.0 612,231.9 613,233.8 614,235.8 615,237.7 616,239.6 617,241.5 618,243.0 619,244.0 620,245.0 621,246.0 622,247.0 623,248.0 624,249.0 625,249.2 626,249.3 627,249.5 628,249.7 629,249.8 630,250.0 631,251.8 632,253.6 633,255.4 634,257.2 635,259.0 636,260.8 637,262.7 638,264.5 639,266.3 640,268.2 641,270.0 642,271.2 643,272.3 644,273.5 645,274.6 646,275.8 647,276.9 648,276.6 649,274.9 650,273.2 651,271.6 652,269.9 653,269.9 654,271.6 655,273.2 656,274.9 657,276.6 658,278.3 659,280.0 660,281.7 661,283.3 662,285.0 663,286.7 664,288.3 665,290.0 666,289.4 667,288.8 668,288.1 669,287.5 670,289.4 671,291.3 672,293.2 673,295.2 674,297.1 675,299.0 676,300.2 677,301.3 678,302.5 679,303.7 680,304.8 681,306.0 682,307.0 683,308.0 684,309.0 685,310.0 686,311.0 687,310.0 688,309.0 689,308.0 690,307.0 691,306.0 692,306.8 693,307.6 694,308.4 695,309.2 696,310.0 697,311.2 698,312.5 699,313.8 700,315.0 L700,565 L0,565Z" fill="#0282d5" stroke="none"/>
<path d="M0,202.5 1,200.4 2,198.2 3,196.1 4,194.0 5,197.9 6,201.7 7,205.6 8,208.8 9,211.2 10,213.8 11,216.2 12,218.8 13,220.8 14,222.3 15,223.8 16,225.4 17,226.9 18,228.5 19,230.0 20,231.2 21,232.4 22,233.6 23,234.8 24,236.0 25,236.0 26,236.0 27,236.0 28,236.0 29,236.0 30,237.4 31,238.8 32,240.2 33,241.6 34,243.0 35,244.7 36,246.3 37,248.0 38,249.7 39,251.3 40,253.0 41,254.4 42,255.8 43,257.2 44,258.6 45,260.0 46,263.1 47,266.2 48,269.4 49,272.5 50,274.0 51,275.5 52,277.0 53,278.5 54,280.0 55,281.2 56,282.5 57,283.8 58,285.0 59,286.2 60,287.5 61,288.5 62,289.5 63,290.5 64,291.5 65,292.5 66,293.5 67,294.5 68,295.3 69,296.0 70,296.7 71,297.3 72,298.0 73,298.7 74,299.3 75,300.0 76,300.5 77,301.0 78,301.5 79,302.0 80,302.5 81,301.9 82,301.3 83,301.1 84,301.3 85,301.5 86,301.7 87,301.9 88,302.1 89,302.3 90,302.5 91,303.3 92,304.2 93,305.0 94,305.8 95,306.7 96,307.5 97,308.1 98,308.8 99,309.4 100,310.0 101,310.6 102,311.2 103,311.9 104,312.5 105,313.2 106,313.9 107,314.6 108,315.3 109,316.0 110,315.8 111,315.7 112,315.5 113,315.3 114,315.2 115,315.0 116,315.1 117,315.3 118,315.4 119,315.5 120,315.7 121,315.8 122,315.9 123,315.8 124,315.5 125,315.2 126,314.9 127,314.6 128,314.3 129,314.0 130,314.3 131,314.6 132,314.9 133,315.1 134,315.4 135,315.7 136,316.0 137,316.4 138,316.9 139,317.3 140,317.8 141,318.2 142,318.6 143,319.1 144,319.5 145,319.4 146,319.3 147,319.2 148,319.2 149,319.1 150,319.0 151,318.5 152,318.0 153,317.5 154,317.0 155,316.5 156,316.0 157,316.5 158,316.9 159,317.4 160,317.8 161,318.3 162,318.8 163,318.8 164,318.3 165,317.8 166,317.4 167,316.9 168,316.5 169,316.0 170,316.5 171,317.0 172,317.5 173,318.0 174,318.5 175,319.0 176,317.4 177,315.8 178,314.2 179,312.6 180,311.0 181,310.2 182,309.5 183,308.8 184,308.0 185,308.6 186,309.1 187,309.7 188,309.6 189,308.8 190,308.1 191,307.3 192,306.5 193,305.8 194,305.0 195,304.0 196,303.0 197,302.0 198,301.0 199,300.0 200,298.0 201,296.0 202,294.0 203,292.0 204,290.0 205,287.9 206,285.8 207,283.8 208,281.7 209,279.6 210,277.5 211,274.2 212,270.9 213,267.6 214,264.3 215,261.0 216,260.6 217,260.2 218,259.8 219,259.4 220,259.0 221,257.2 222,255.4 223,253.6 224,251.8 225,250.0 226,248.2 227,246.3 228,244.5 229,242.7 230,240.8 231,239.0 232,237.8 233,236.7 234,235.6 235,234.4 236,233.2 237,232.1 238,230.9 239,229.8 240,228.7 241,227.5 242,227.9 243,228.2 244,228.6 245,229.0 246,229.4 247,229.8 248,230.1 249,230.5 250,229.8 251,229.0 252,228.2 253,227.5 254,226.8 255,226.0 256,226.8 257,227.7 258,228.5 259,229.3 260,230.2 261,231.0 262,233.2 263,235.3 264,237.5 265,239.6 266,241.8 267,243.9 268,245.7 269,247.1 270,248.5 271,249.8 272,251.2 273,252.6 274,254.0 275,253.7 276,253.4 277,253.1 278,252.8 279,252.5 280,254.8 281,257.0 282,259.2 283,261.5 284,263.8 285,266.0 286,268.1 287,270.2 288,272.3 289,274.4 290,276.5 291,278.6 292,280.8 293,282.9 294,285.0 295,287.2 296,289.3 297,291.4 298,293.3 299,294.8 300,296.3 301,297.9 302,299.4 303,300.9 304,302.5 305,304.0 306,305.3 307,306.7 308,308.0 309,309.3 310,310.7 311,312.0 312,313.3 313,314.7 314,316.2 315,317.7 316,319.1 317,320.6 318,322.1 319,323.5 320,325.0 321,323.5 322,322.0 323,320.5 324,319.0 325,317.5 326,316.0 327,317.3 328,318.6 329,319.9 330,321.2 331,322.5 332,322.2 333,321.9 334,321.6 335,321.2 336,320.9 337,320.6 338,320.3 339,320.0 340,321.1 341,322.3 342,323.4 343,323.6 344,322.7 345,321.9 346,321.0 347,322.0 348,323.0 349,324.0 350,325.0 351,323.8 352,322.6 353,321.4 354,320.2 355,319.0 356,319.5 357,320.0 358,320.5 359,321.0 360,320.7 361,320.3 362,320.0 363,319.7 364,319.3 365,319.0 366,319.7 367,320.3 368,321.0 369,321.7 370,322.3 371,323.0 372,323.7 373,324.3 374,325.0 375,324.5 376,324.1 377,323.6 378,323.1 379,322.6 380,322.2 381,321.7 382,321.2 383,321.3 384,321.9 385,322.5 386,323.1 387,323.7 388,324.4 389,325.2 390,326.0 391,326.8 392,327.6 393,328.4 394,329.2 395,330.0 396,330.1 397,330.1 398,330.2 399,330.3 400,330.3 401,330.4 402,330.5 403,330.7 404,331.2 405,331.7 406,332.1 407,332.6 408,333.1 409,333.5 410,334.0 411,334.8 412,335.6 413,336.4 414,337.2 415,338.0 416,338.8 417,339.6 418,340.4 419,341.2 420,341.9 421,342.7 422,343.5 423,344.2 424,345.0 425,343.3 426,341.6 427,339.9 428,339.2 429,339.6 430,340.0 431,340.4 432,340.8 433,340.8 434,340.4 435,339.9 436,339.5 437,339.9 438,340.2 439,340.6 440,341.0 441,341.4 442,341.8 443,342.1 444,342.5 445,342.9 446,343.2 447,343.6 448,343.9 449,344.2 450,344.6 451,344.9 452,345.3 453,345.6 454,346.0 455,345.7 456,345.3 457,345.0 458,344.7 459,344.3 460,344.0 461,344.1 462,344.2 463,344.2 464,344.3 465,344.4 466,344.5 467,345.0 468,345.4 469,345.9 470,346.3 471,346.8 472,347.3 473,347.8 474,348.3 475,348.8 476,349.4 477,349.9 478,350.5 479,351.0 480,350.5 481,350.0 482,349.5 483,349.0 484,348.5 485,348.0 486,347.5 487,346.9 488,346.2 489,345.6 490,345.0 491,344.4 492,343.8 493,343.1 494,342.5 495,343.4 496,344.3 497,345.1 498,346.0 499,346.9 500,347.8 501,348.7 502,349.6 503,349.6 504,348.8 505,348.0 506,347.2 507,346.4 508,345.6 509,344.8 510,344.0 511,342.5 512,341.0 513,339.5 514,338.0 515,336.5 516,335.0 517,334.2 518,333.4 519,332.6 520,331.8 521,331.0 522,331.9 523,332.8 524,333.6 525,334.5 526,332.6 527,330.7 528,328.8 529,326.9 530,325.0 531,323.0 532,321.0 533,319.0 534,317.0 535,315.0 536,313.0 537,311.0 538,309.0 539,307.0 540,305.0 541,302.5 542,300.0 543,297.5 544,295.0 545,292.5 546,289.5 547,286.5 548,283.5 549,280.5 550,277.5 551,274.0 552,270.5 553,267.0 554,263.5 555,260.0 556,258.1 557,256.2 558,254.4 559,252.5 560,249.4 561,246.3 562,243.2 563,240.2 564,237.1 565,234.0 566,231.8 567,229.5 568,227.2 569,225.0 570,224.7 571,224.4 572,224.1 573,225.0 574,227.0 575,229.0 576,231.0 577,233.0 578,233.5 579,232.5 580,231.5 581,230.5 582,229.5 583,228.5 584,227.5 585,226.5 586,225.5 587,224.5 588,223.8 589,223.4 590,223.0 591,222.6 592,222.2 593,221.8 594,221.4 595,221.0 596,220.5 597,220.0 598,219.5 599,219.0 600,216.7 601,214.4 602,212.1 603,212.1 604,214.4 605,216.7 606,219.0 607,221.2 608,223.4 609,225.6 610,227.8 611,230.0 612,231.9 613,233.8 614,235.8 615,237.7 616,239.6 617,241.5 618,243.0 619,244.0 620,245.0 621,246.0 622,247.0 623,248.0 624,249.0 625,249.2 626,249.3 627,249.5 628,249.7 629,249.8 630,250.0 631,251.8 632,253.6 633,255.4 634,257.2 635,259.0 636,260.8 637,262.7 638,264.5 639,266.3 640,268.2 641,270.0 642,271.2 643,272.3 644,273.5 645,274.6 646,275.8 647,276.9 648,276.6 649,274.9 650,273.2 651,271.6 652,269.9 653,269.9 654,271.6 655,273.2 656,274.9 657,276.6 658,278.3 659,280.0 660,281.7 661,283.3 662,285.0 663,286.7 664,288.3 665,290.0 666,289.4 667,288.8 668,288.1 669,287.5 670,289.4 671,291.3 672,293.2 673,295.2 674,297.1 675,299.0 676,300.2 677,301.3 678,302.5 679,303.7 680,304.8 681,306.0 682,307.0 683,308.0 684,309.0 685,310.0 686,311.0 687,310.0 688,309.0 689,308.0 690,307.0 691,306.0 692,306.8 693,307.6 694,308.4 695,309.2 696,310.0 697,311.2 698,312.5 699,313.8 700,315.0" fill="none" stroke="#01416b" stroke-width="1.25" stroke-linejoin="round"/>
<path d="M0,312.5 1,311.9 2,311.2 3,310.6 4,310.0 5,310.1 6,310.2 7,310.4 8,310.5 9,310.6 10,310.7 11,310.8 12,310.9 13,311.1 14,311.3 15,311.5 16,311.7 17,311.9 18,312.1 19,312.3 20,312.5 21,312.0 22,311.5 23,311.0 24,310.5 25,310.0 26,309.6 27,309.2 28,308.8 29,308.4 30,308.0 31,308.5 32,309.0 33,309.5 34,310.0 35,310.5 36,311.0 37,310.9 38,310.8 39,310.6 40,310.5 41,310.4 42,310.2 43,310.1 44,310.0 45,311.2 46,312.4 47,313.6 48,314.8 49,316.0 50,317.3 51,318.6 52,319.9 53,321.2 54,322.5 55,323.3 56,324.2 57,325.0 58,325.8 59,326.7 60,327.5 61,327.9 62,328.3 63,328.8 64,329.2 65,329.6 66,330.0 67,330.4 68,330.8 69,331.1 70,331.5 71,331.9 72,332.2 73,332.6 74,333.0 75,332.5 76,332.0 77,331.5 78,331.0 79,330.5 80,330.0 81,329.9 82,329.7 83,329.6 84,329.5 85,329.3 86,329.2 87,329.1 88,329.1 89,329.4 90,329.6 91,329.8 92,330.1 93,330.3 94,330.5 95,330.8 96,331.0 97,331.4 98,331.9 99,332.3 100,332.8 101,333.2 102,333.6 103,334.1 104,334.5 105,333.8 106,333.0 107,332.2 108,331.5 109,330.8 110,330.0 111,330.0 112,330.0 113,330.0 114,330.0 115,330.0 116,330.0 117,330.0 118,330.1 119,330.2 120,330.3 121,330.5 122,330.6 123,330.7 124,330.9 125,331.0 126,330.9 127,330.7 128,330.6 129,330.5 130,330.3 131,330.2 132,330.1 133,330.1 134,330.2 135,330.3 136,330.5 137,330.6 138,330.7 139,330.9 140,331.0 141,331.4 142,331.8 143,332.2 144,332.6 145,333.0 146,333.4 147,333.8 148,334.2 149,334.6 150,335.0 151,334.3 152,333.7 153,333.0 154,332.3 155,331.7 156,331.0 157,331.2 158,331.5 159,331.7 160,331.9 161,332.2 162,332.4 163,332.5 164,332.6 165,332.7 166,332.8 167,332.8 168,332.9 169,333.0 170,333.2 171,333.3 172,333.5 173,333.7 174,333.8 175,334.0 176,334.1 177,334.3 178,334.4 179,334.5 180,334.7 181,334.8 182,334.9 183,335.6 184,336.7 185,337.9 186,339.0 187,338.2 188,337.5 189,336.8 190,336.0 191,336.3 192,336.6 193,336.9 194,337.2 195,337.5 196,336.8 197,336.1 198,335.4 199,334.7 200,334.0 201,333.6 202,333.2 203,332.8 204,332.4 205,332.0 206,331.6 207,331.2 208,330.5 209,329.6 210,328.7 211,327.7 212,326.8 213,325.9 214,324.9 215,324.0 216,324.3 217,324.5 218,324.8 219,325.1 220,325.3 221,325.6 222,325.9 223,326.1 224,326.4 225,326.6 226,326.8 227,327.1 228,327.3 229,327.6 230,327.8 231,328.0 232,328.3 233,328.5 234,328.8 235,329.0 236,328.8 237,328.6 238,328.4 239,328.2 240,328.0 241,327.8 242,327.6 243,327.4 244,327.2 245,327.0 246,327.8 247,328.6 248,329.4 249,330.2 250,331.0 251,331.8 252,332.6 253,333.4 254,334.2 255,335.0 256,335.9 257,336.8 258,337.7 259,338.6 260,339.5 261,340.4 262,341.3 263,342.2 264,343.1 265,344.0 266,344.6 267,345.2 268,345.8 269,346.4 270,347.0 271,347.6 272,348.2 273,348.8 274,349.4 275,350.0 276,350.7 277,351.3 278,352.0 279,352.7 280,353.3 281,354.0 282,354.5 283,355.1 284,355.6 285,356.2 286,356.7 287,357.2 288,357.7 289,358.2 290,358.7 291,359.1 292,359.6 293,360.1 294,360.5 295,361.0 296,361.1 297,361.3 298,361.4 299,361.6 300,361.8 301,361.9 302,362.1 303,362.2 304,362.4 305,362.5 306,362.8 307,363.2 308,363.5 309,363.8 310,364.2 311,364.5 312,364.8 313,365.5 314,366.6 315,367.6 316,368.7 317,369.8 318,370.8 319,371.9 320,372.9 321,374.0 322,373.4 323,372.8 324,372.2 325,371.5 326,370.9 327,370.3 328,370.3 329,371.0 330,371.7 331,372.3 332,373.0 333,373.7 334,374.3 335,375.0 336,375.5 337,376.1 338,376.6 339,377.1 340,377.7 341,378.2 342,378.7 343,379.2 344,379.5 345,379.8 346,380.2 347,380.5 348,380.8 349,381.2 350,381.5 351,382.2 352,383.0 353,383.7 354,384.4 355,385.2 356,385.9 357,386.6 358,387.0 359,387.0 360,387.0 361,387.0 362,387.0 363,387.0 364,387.0 365,387.0 366,387.2 367,387.4 368,387.7 369,387.9 370,388.1 371,388.3 372,388.6 373,388.8 374,389.0 375,388.8 376,388.5 377,388.3 378,388.1 379,387.8 380,387.6 381,387.4 382,387.1 383,387.0 384,386.9 385,386.9 386,386.9 387,386.8 388,386.8 389,386.7 390,386.7 391,386.7 392,386.6 393,386.6 394,386.5 395,386.5 396,386.2 397,385.9 398,385.7 399,385.4 400,385.1 401,384.8 402,384.6 403,384.3 404,384.0 405,384.0 406,384.0 407,384.0 408,384.0 409,384.0 410,384.0 411,384.0 412,384.0 413,384.1 414,384.2 415,384.4 416,384.5 417,384.7 418,384.8 419,385.0 420,385.1 421,385.3 422,385.4 423,385.2 424,384.5 425,383.8 426,383.1 427,382.4 428,381.7 429,381.0 430,381.1 431,381.2 432,381.4 433,381.5 434,381.6 435,381.7 436,381.8 437,381.9 438,382.0 439,381.9 440,381.8 441,381.7 442,381.6 443,381.6 444,381.5 445,381.4 446,381.3 447,381.2 448,381.2 449,381.1 450,381.0 451,380.9 452,380.7 453,380.6 454,380.4 455,380.2 456,380.1 457,379.9 458,379.8 459,379.6 460,379.5 461,379.4 462,379.2 463,379.1 464,378.9 465,378.8 466,378.6 467,378.4 468,378.3 469,378.1 470,378.0 471,378.3 472,378.5 473,378.8 474,379.1 475,379.3 476,379.6 477,379.9 478,379.8 479,379.5 480,379.1 481,378.8 482,378.4 483,378.1 484,377.7 485,377.4 486,377.0 487,376.8 488,376.7 489,376.5 490,376.3 491,376.2 492,376.0 493,375.8 494,375.7 495,375.5 496,375.4 497,375.4 498,375.4 499,375.3 500,375.2 501,375.2 502,375.1 503,375.1 504,375.1 505,375.0 506,374.6 507,374.2 508,373.8 509,373.4 510,373.0 511,372.6 512,372.2 513,371.9 514,371.6 515,371.3 516,371.1 517,370.8 518,370.5 519,370.3 520,370.0 521,369.9 522,369.8 523,369.7 524,369.6 525,369.5 526,368.9 527,368.3 528,367.7 529,367.1 530,366.5 531,365.9 532,365.3 533,364.7 534,364.0 535,363.3 536,362.7 537,362.0 538,361.3 539,360.7 540,360.0 541,359.3 542,358.7 543,358.0 544,357.3 545,356.7 546,356.0 547,355.3 548,354.8 549,354.5 550,354.2 551,353.8 552,353.5 553,353.2 554,352.8 555,352.5 556,352.2 557,351.8 558,351.5 559,351.2 560,350.8 561,350.5 562,350.2 563,349.5 564,348.6 565,347.7 566,346.7 567,345.8 568,344.9 569,343.9 570,343.0 571,343.1 572,343.3 573,343.4 574,343.5 575,343.7 576,343.8 577,343.9 578,344.0 579,344.1 580,344.2 581,344.2 582,344.3 583,344.4 584,344.4 585,344.5 586,344.3 587,344.1 588,343.9 589,343.7 590,343.5 591,343.3 592,343.1 593,343.1 594,343.2 595,343.4 596,343.5 597,343.7 598,343.8 599,344.0 600,343.5 601,343.0 602,342.5 603,342.0 604,341.5 605,341.0 606,341.4 607,341.8 608,342.2 609,342.6 610,343.0 611,343.4 612,343.8 613,344.2 614,344.7 615,345.2 616,345.6 617,346.1 618,346.5 619,347.0 620,346.5 621,346.0 622,345.5 623,345.0 624,344.5 625,344.6 626,344.7 627,344.9 628,345.0 629,345.1 630,345.2 631,345.3 632,345.4 633,345.5 634,345.6 635,345.7 636,345.7 637,345.8 638,345.9 639,345.9 640,346.0 641,346.2 642,346.4 643,346.6 644,346.8 645,347.0 646,347.2 647,347.4 648,347.4 649,347.1 650,346.8 651,346.4 652,346.1 653,346.4 654,347.2 655,347.9 656,348.7 657,349.5 658,350.2 659,351.0 660,351.8 661,352.7 662,353.5 663,354.3 664,355.2 665,356.0 666,355.8 667,355.6 668,355.4 669,355.2 670,355.0 671,355.5 672,356.0 673,356.5 674,357.0 675,355.7 676,354.4 677,353.1 678,352.5 679,352.6 680,352.7 681,352.7 682,352.8 683,352.9 684,352.9 685,353.0 686,352.9 687,352.7 688,352.6 689,352.5 690,352.3 691,352.2 692,352.1 693,351.9 694,351.6 695,351.3 696,351.1 697,350.8 698,350.5 699,350.3 700,350.0 L700,565 L0,565Z" fill="#ffd143" stroke="none"/>
<path d="M0,312.5 1,311.9 2,311.2 3,310.6 4,310.0 5,310.1 6,310.2 7,310.4 8,310.5 9,310.6 10,310.7 11,310.8 12,310.9 13,311.1 14,311.3 15,311.5 16,311.7 17,311.9 18,312.1 19,312.3 20,312.5 21,312.0 22,311.5 23,311.0 24,310.5 25,310.0 26,309.6 27,309.2 28,308.8 29,308.4 30,308.0 31,308.5 32,309.0 33,309.5 34,310.0 35,310.5 36,311.0 37,310.9 38,310.8 39,310.6 40,310.5 41,310.4 42,310.2 43,310.1 44,310.0 45,311.2 46,312.4 47,313.6 48,314.8 49,316.0 50,317.3 51,318.6 52,319.9 53,321.2 54,322.5 55,323.3 56,324.2 57,325.0 58,325.8 59,326.7 60,327.5 61,327.9 62,328.3 63,328.8 64,329.2 65,329.6 66,330.0 67,330.4 68,330.8 69,331.1 70,331.5 71,331.9 72,332.2 73,332.6 74,333.0 75,332.5 76,332.0 77,331.5 78,331.0 79,330.5 80,330.0 81,329.9 82,329.7 83,329.6 84,329.5 85,329.3 86,329.2 87,329.1 88,329.1 89,329.4 90,329.6 91,329.8 92,330.1 93,330.3 94,330.5 95,330.8 96,331.0 97,331.4 98,331.9 99,332.3 100,332.8 101,333.2 102,333.6 103,334.1 104,334.5 105,333.8 106,333.0 107,332.2 108,331.5 109,330.8 110,330.0 111,330.0 112,330.0 113,330.0 114,330.0 115,330.0 116,330.0 117,330.0 118,330.1 119,330.2 120,330.3 121,330.5 122,330.6 123,330.7 124,330.9 125,331.0 126,330.9 127,330.7 128,330.6 129,330.5 130,330.3 131,330.2 132,330.1 133,330.1 134,330.2 135,330.3 136,330.5 137,330.6 138,330.7 139,330.9 140,331.0 141,331.4 142,331.8 143,332.2 144,332.6 145,333.0 146,333.4 147,333.8 148,334.2 149,334.6 150,335.0 151,334.3 152,333.7 153,333.0 154,332.3 155,331.7 156,331.0 157,331.2 158,331.5 159,331.7 160,331.9 161,332.2 162,332.4 163,332.5 164,332.6 165,332.7 166,332.8 167,332.8 168,332.9 169,333.0 170,333.2 171,333.3 172,333.5 173,333.7 174,333.8 175,334.0 176,334.1 177,334.3 178,334.4 179,334.5 180,334.7 181,334.8 182,334.9 183,335.6 184,336.7 185,337.9 186,339.0 187,338.2 188,337.5 189,336.8 190,336.0 191,336.3 192,336.6 193,336.9 194,337.2 195,337.5 196,336.8 197,336.1 198,335.4 199,334.7 200,334.0 201,333.6 202,333.2 203,332.8 204,332.4 205,332.0 206,331.6 207,331.2 208,330.5 209,329.6 210,328.7 211,327.7 212,326.8 213,325.9 214,324.9 215,324.0 216,324.3 217,324.5 218,324.8 219,325.1 220,325.3 221,325.6 222,325.9 223,326.1 224,326.4 225,326.6 226,326.8 227,327.1 228,327.3 229,327.6 230,327.8 231,328.0 232,328.3 233,328.5 234,328.8 235,329.0 236,328.8 237,328.6 238,328.4 239,328.2 240,328.0 241,327.8 242,327.6 243,327.4 244,327.2 245,327.0 246,327.8 247,328.6 248,329.4 249,330.2 250,331.0 251,331.8 252,332.6 253,333.4 254,334.2 255,335.0 256,335.9 257,336.8 258,337.7 259,338.6 260,339.5 261,340.4 262,341.3 263,342.2 264,343.1 265,344.0 266,344.6 267,345.2 268,345.8 269,346.4 270,347.0 271,347.6 272,348.2 273,348.8 274,349.4 275,350.0 276,350.7 277,351.3 278,352.0 279,352.7 280,353.3 281,354.0 282,354.5 283,355.1 284,355.6 285,356.2 286,356.7 287,357.2 288,357.7 289,358.2 290,358.7 291,359.1 292,359.6 293,360.1 294,360.5 295,361.0 296,361.1 297,361.3 298,361.4 299,361.6 300,361.8 301,361.9 302,362.1 303,362.2 304,362.4 305,362.5 306,362.8 307,363.2 308,363.5 309,363.8 310,364.2 311,364.5 312,364.8 313,365.5 314,366.6 315,367.6 316,368.7 317,369.8 318,370.8 319,371.9 320,372.9 321,374.0 322,373.4 323,372.8 324,372.2 325,371.5 326,370.9 327,370.3 328,370.3 329,371.0 330,371.7 331,372.3 332,373.0 333,373.7 334,374.3 335,375.0 336,375.5 337,376.1 338,376.6 339,377.1 340,377.7 341,378.2 342,378.7 343,379.2 344,379.5 345,379.8 346,380.2 347,380.5 348,380.8 349,381.2 350,381.5 351,382.2 352,383.0 353,383.7 354,384.4 355,385.2 356,385.9 357,386.6 358,387.0 359,387.0 360,387.0 361,387.0 362,387.0 363,387.0 364,387.0 365,387.0 366,387.2 367,387.4 368,387.7 369,387.9 370,388.1 371,388.3 372,388.6 373,388.8 374,389.0 375,388.8 376,388.5 377,388.3 378,388.1 379,387.8 380,387.6 381,387.4 382,387.1 383,387.0 384,386.9 385,386.9 386,386.9 387,386.8 388,386.8 389,386.7 390,386.7 391,386.7 392,386.6 393,386.6 394,386.5 395,386.5 396,386.2 397,385.9 398,385.7 399,385.4 400,385.1 401,384.8 402,384.6 403,384.3 404,384.0 405,384.0 406,384.0 407,384.0 408,384.0 409,384.0 410,384.0 411,384.0 412,384.0 413,384.1 414,384.2 415,384.4 416,384.5 417,384.7 418,384.8 419,385.0 420,385.1 421,385.3 422,385.4 423,385.2 424,384.5 425,383.8 426,383.1 427,382.4 428,381.7 429,381.0 430,381.1 431,381.2 432,381.4 433,381.5 434,381.6 435,381.7 436,381.8 437,381.9 438,382.0 439,381.9 440,381.8 441,381.7 442,381.6 443,381.6 444,381.5 445,381.4 446,381.3 447,381.2 448,381.2 449,381.1 450,381.0 451,380.9 452,380.7 453,380.6 454,380.4 455,380.2 456,380.1 457,379.9 458,379.8 459,379.6 460,379.5 461,379.4 462,379.2 463,379.1 464,378.9 465,378.8 466,378.6 467,378.4 468,378.3 469,378.1 470,378.0 471,378.3 472,378.5 473,378.8 474,379.1 475,379.3 476,379.6 477,379.9 478,379.8 479,379.5 480,379.1 481,378.8 482,378.4 483,378.1 484,377.7 485,377.4 486,377.0 487,376.8 488,376.7 489,376.5 490,376.3 491,376.2 492,376.0 493,375.8 494,375.7 495,375.5 496,375.4 497,375.4 498,375.4 499,375.3 500,375.2 501,375.2 502,375.1 503,375.1 504,375.1 505,375.0 506,374.6 507,374.2 508,373.8 509,373.4 510,373.0 511,372.6 512,372.2 513,371.9 514,371.6 515,371.3 516,371.1 517,370.8 518,370.5 519,370.3 520,370.0 521,369.9 522,369.8 523,369.7 524,369.6 525,369.5 526,368.9 527,368.3 528,367.7 529,367.1 530,366.5 531,365.9 532,365.3 533,364.7 534,364.0 535,363.3 536,362.7 537,362.0 538,361.3 539,360.7 540,360.0 541,359.3 542,358.7 543,358.0 544,357.3 545,356.7 546,356.0 547,355.3 548,354.8 549,354.5 550,354.2 551,353.8 552,353.5 553,353.2 554,352.8 555,352.5 556,352.2 557,351.8 558,351.5 559,351.2 560,350.8 561,350.5 562,350.2 563,349.5 564,348.6 565,347.7 566,346.7 567,345.8 568,344.9 569,343.9 570,343.0 571,343.1 572,343.3 573,343.4 574,343.5 575,343.7 576,343.8 577,343.9 578,344.0 579,344.1 580,344.2 581,344.2 582,344.3 583,344.4 584,344.4 585,344.5 586,344.3 587,344.1 588,343.9 589,343.7 590,343.5 591,343.3 592,343.1 593,343.1 594,343.2 595,343.4 596,343.5 597,343.7 598,343.8 599,344.0 600,343.5 601,343.0 602,342.5 603,342.0 604,341.5 605,341.0 606,341.4 607,341.8 608,342.2 609,342.6 610,343.0 611,343.4 612,343.8 613,344.2 614,344.7 615,345.2 616,345.6 617,346.1 618,346.5 619,347.0 620,346.5 621,346.0 622,345.5 623,345.0 624,344.5 625,344.6 626,344.7 627,344.9 628,345.0 629,345.1 630,345.2 631,345.3 632,345.4 633,345.5 634,345.6 635,345.7 636,345.7 637,345.8 638,345.9 639,345.9 640,346.0 641,346.2 642,346.4 643,346.6 644,346.8 645,347.0 646,347.2 647,347.4 648,347.4 649,347.1 650,346.8 651,346.4 652,346.1 653,346.4 654,347.2 655,347.9 656,348.7 657,349.5 658,350.2 659,351.0 660,351.8 661,352.7 662,353.5 663,354.3 664,355.2 665,356.0 666,355.8 667,355.6 668,355.4 669,355.2 670,355.0 671,355.5 672,356.0 673,356.5 674,357.0 675,355.7 676,354.4 677,353.1 678,352.5 679,352.6 680,352.7 681,352.7 682,352.8 683,352.9 684,352.9 685,353.0 686,352.9 687,352.7 688,352.6 689,352.5 690,352.3 691,352.2 692,352.1 693,351.9 694,351.6 695,351.3 696,351.1 697,350.8 698,350.5 699,350.3 700,350.0" fill="none" stroke="#5e5322" stroke-width="1.25" stroke-linejoin="round"/>
<path d="M0,383.8 1,383.7 2,383.7 3,383.6 4,383.5 5,383.5 6,383.4 7,383.3 8,383.1 9,382.6 10,382.1 11,381.6 12,381.1 13,380.8 14,380.7 15,380.6 16,380.4 17,380.4 18,380.2 19,380.2 20,380.1 21,379.9 22,379.9 23,379.6 24,379.2 25,378.8 26,378.4 27,378.0 28,377.6 29,377.2 30,376.8 31,376.4 32,376.0 33,375.7 34,375.6 35,375.4 36,375.2 37,375.1 38,374.9 39,374.8 40,374.6 41,374.4 42,374.3 43,374.1 44,374.0 45,373.8 46,373.7 47,373.6 48,373.5 49,373.4 50,373.3 51,373.2 52,373.1 53,373.0 54,372.9 55,372.8 56,372.9 57,372.9 58,372.9 59,373.0 60,373.1 61,373.1 62,373.2 63,373.2 64,373.2 65,373.3 66,373.5 67,373.8 68,374.0 69,374.3 70,374.5 71,374.7 72,375.0 73,375.2 74,375.5 75,375.7 76,375.9 77,376.2 78,376.1 79,375.8 80,375.5 81,375.1 82,374.8 83,374.5 84,374.1 85,373.8 86,373.5 87,373.2 88,372.9 89,372.6 90,372.3 91,372.0 92,371.7 93,371.4 94,371.1 95,370.8 96,370.8 97,370.7 98,370.7 99,370.6 100,370.6 101,370.5 102,370.4 103,370.4 104,370.4 105,370.3 106,370.2 107,370.1 108,369.9 109,369.8 110,369.7 111,369.6 112,369.5 113,369.3 114,369.2 115,369.1 116,369.0 117,368.9 118,368.9 119,369.0 120,369.2 121,369.3 122,369.5 123,369.6 124,369.8 125,369.9 126,370.1 127,370.2 128,370.6 129,371.1 130,371.6 131,372.2 132,372.7 133,373.2 134,373.7 135,374.3 136,374.8 137,374.6 138,374.4 139,374.1 140,373.9 141,373.7 142,373.5 143,373.2 144,373.0 145,372.8 146,372.8 147,372.9 148,372.9 149,373.0 150,373.0 151,373.0 152,373.1 153,373.1 154,373.2 155,373.2 156,373.2 157,373.3 158,373.3 159,373.4 160,373.4 161,373.5 162,373.5 163,373.6 164,373.6 165,373.7 166,373.7 167,373.8 168,373.9 169,374.2 170,374.5 171,374.7 172,375.0 173,375.3 174,375.5 175,375.8 176,375.8 177,375.8 178,375.8 179,375.8 180,375.8 181,375.8 182,375.8 183,375.8 184,375.8 185,375.8 186,376.2 187,376.6 188,377.0 189,377.4 190,377.8 191,378.2 192,378.6 193,379.0 194,379.4 195,379.8 196,380.2 197,380.6 198,381.0 199,381.4 200,381.8 201,382.2 202,382.6 203,383.0 204,383.4 205,383.8 206,384.2 207,384.6 208,384.8 209,384.9 210,385.0 211,385.1 212,385.2 213,385.2 214,385.3 215,385.4 216,385.5 217,385.6 218,385.6 219,385.7 220,385.8 221,386.3 222,386.8 223,387.3 224,387.8 225,388.3 226,388.8 227,389.3 228,389.8 229,390.3 230,390.8 231,391.3 232,391.8 233,392.2 234,392.7 235,393.2 236,393.7 237,394.2 238,394.6 239,395.1 240,395.6 241,396.1 242,396.6 243,397.0 244,397.4 245,397.8 246,398.2 247,398.6 248,399.0 249,399.4 250,399.8 251,400.2 252,400.6 253,401.0 254,401.4 255,401.8 256,402.1 257,402.4 258,402.8 259,403.1 260,403.4 261,403.7 262,404.0 263,404.4 264,404.7 265,405.0 266,405.3 267,405.6 268,405.8 269,405.9 270,405.9 271,405.9 272,406.0 273,406.0 274,406.1 275,406.1 276,406.1 277,406.2 278,406.2 279,406.3 280,406.3 281,406.4 282,406.5 283,406.7 284,406.8 285,406.9 286,407.0 287,407.1 288,407.3 289,407.4 290,407.5 291,407.6 292,407.7 293,407.9 294,408.0 295,408.2 296,408.4 297,408.5 298,408.7 299,408.8 300,409.0 301,409.2 302,409.3 303,409.5 304,409.6 305,409.8 306,409.7 307,409.6 308,409.5 309,409.4 310,409.3 311,409.2 312,409.1 313,409.0 314,408.9 315,408.8 316,408.9 317,409.0 318,409.1 319,409.2 320,409.3 321,409.4 322,409.5 323,409.6 324,409.7 325,409.8 326,409.9 327,409.9 328,409.9 329,410.0 330,410.1 331,410.1 332,410.2 333,410.2 334,410.2 335,410.3 336,410.7 337,411.1 338,411.5 339,411.9 340,412.3 341,412.7 342,413.1 343,413.5 344,413.8 345,414.1 346,414.5 347,414.8 348,415.1 349,415.5 350,415.8 351,416.0 352,416.2 353,416.4 354,416.6 355,416.8 356,417.0 357,417.2 358,417.4 359,417.6 360,417.8 361,417.9 362,417.9 363,417.9 364,418.0 365,418.1 366,418.1 367,418.2 368,418.2 369,418.2 370,418.3 371,418.1 372,417.9 373,417.7 374,417.5 375,417.3 376,417.1 377,416.9 378,416.7 379,416.5 380,416.3 381,416.2 382,416.0 383,415.9 384,415.7 385,415.6 386,415.4 387,415.2 388,415.1 389,414.9 390,414.8 391,414.4 392,414.1 393,413.8 394,413.4 395,413.1 396,412.7 397,412.4 398,412.0 399,411.7 400,411.3 401,411.2 402,411.1 403,411.1 404,411.0 405,410.9 406,410.8 407,410.7 408,410.7 409,410.6 410,410.5 411,410.4 412,410.3 413,410.2 414,410.1 415,410.0 416,409.9 417,409.8 418,409.6 419,409.5 420,409.4 421,409.3 422,409.2 423,409.0 424,408.9 425,408.8 426,408.6 427,408.5 428,408.3 429,408.2 430,408.0 431,407.8 432,407.7 433,407.5 434,407.4 435,407.2 436,407.0 437,406.9 438,406.8 439,406.7 440,406.6 441,406.5 442,406.4 443,406.4 444,406.3 445,406.2 446,406.1 447,406.0 448,406.0 449,405.9 450,405.8 451,405.6 452,405.3 453,405.1 454,404.8 455,404.6 456,404.3 457,404.1 458,403.8 459,403.6 460,403.3 461,403.0 462,402.7 463,402.4 464,402.1 465,401.8 466,401.5 467,401.2 468,400.9 469,400.6 470,400.3 471,400.1 472,399.9 473,399.7 474,399.5 475,399.3 476,399.1 477,398.9 478,398.7 479,398.5 480,398.3 481,398.2 482,398.0 483,397.9 484,397.7 485,397.6 486,397.4 487,397.2 488,397.1 489,396.9 490,396.8 491,396.7 492,396.6 493,396.5 494,396.4 495,396.3 496,396.2 497,396.1 498,396.0 499,395.9 500,395.8 501,395.8 502,395.8 503,395.8 504,395.8 505,395.8 506,395.8 507,395.8 508,395.8 509,395.8 510,395.8 511,395.8 512,395.8 513,395.8 514,395.9 515,395.9 516,395.9 517,396.0 518,396.0 519,396.1 520,396.1 521,396.1 522,396.2 523,396.2 524,396.3 525,396.3 526,396.2 527,396.2 528,396.2 529,396.1 530,396.1 531,396.0 532,395.9 533,395.9 534,395.9 535,395.8 536,395.9 537,396.0 538,396.1 539,396.2 540,396.3 541,396.4 542,396.5 543,396.6 544,396.7 545,396.8 546,397.2 547,397.6 548,398.0 549,398.4 550,398.8 551,399.2 552,399.6 553,400.0 554,400.4 555,400.8 556,401.4 557,402.0 558,402.6 559,403.2 560,403.8 561,404.4 562,405.0 563,405.4 564,405.5 565,405.7 566,405.8 567,406.0 568,406.1 569,406.3 570,406.4 571,406.6 572,406.7 573,406.8 574,406.8 575,406.8 576,406.8 577,406.8 578,406.8 579,406.8 580,406.8 581,406.8 582,406.8 583,406.8 584,406.8 585,406.8 586,406.8 587,406.8 588,406.8 589,406.8 590,406.8 591,406.8 592,406.8 593,406.8 594,406.8 595,406.8 596,406.8 597,406.8 598,406.7 599,406.6 600,406.5 601,406.4 602,406.3 603,406.1 604,406.0 605,405.9 606,405.8 607,405.7 608,405.5 609,405.4 610,405.3 611,405.1 612,404.9 613,404.7 614,404.5 615,404.3 616,404.1 617,403.9 618,403.7 619,403.5 620,403.3 621,403.1 622,402.9 623,402.7 624,402.4 625,402.2 626,402.0 627,401.7 628,401.5 629,401.2 630,401.0 631,400.8 632,400.5 633,400.3 634,400.0 635,399.8 636,399.9 637,400.0 638,400.1 639,400.2 640,400.3 641,400.4 642,400.5 643,400.6 644,400.7 645,400.8 646,400.9 647,401.0 648,401.1 649,401.2 650,401.3 651,401.4 652,401.5 653,401.6 654,401.7 655,401.8 656,402.0 657,402.2 658,402.4 659,402.6 660,402.8 661,403.0 662,403.2 663,403.4 664,403.6 665,403.8 666,403.9 667,404.0 668,404.1 669,404.2 670,404.3 671,404.4 672,404.5 673,404.6 674,404.7 675,404.8 676,404.7 677,404.5 678,404.4 679,404.2 680,404.1 681,403.9 682,403.8 683,403.6 684,403.4 685,403.3 686,403.2 687,403.0 688,402.9 689,402.7 690,402.6 691,402.4 692,402.2 693,402.1 694,401.9 695,401.8 696,401.7 697,401.6 698,401.5 699,401.4 700,401.3 L700,565 L0,565Z" fill="#ab430e" stroke="none"/>
<path d="M0,383.8 1,383.7 2,383.7 3,383.6 4,383.5 5,383.5 6,383.4 7,383.3 8,383.1 9,382.6 10,382.1 11,381.6 12,381.1 13,380.8 14,380.7 15,380.6 16,380.4 17,380.4 18,380.2 19,380.2 20,380.1 21,379.9 22,379.9 23,379.6 24,379.2 25,378.8 26,378.4 27,378.0 28,377.6 29,377.2 30,376.8 31,376.4 32,376.0 33,375.7 34,375.6 35,375.4 36,375.2 37,375.1 38,374.9 39,374.8 40,374.6 41,374.4 42,374.3 43,374.1 44,374.0 45,373.8 46,373.7 47,373.6 48,373.5 49,373.4 50,373.3 51,373.2 52,373.1 53,373.0 54,372.9 55,372.8 56,372.9 57,372.9 58,372.9 59,373.0 60,373.1 61,373.1 62,373.2 63,373.2 64,373.2 65,373.3 66,373.5 67,373.8 68,374.0 69,374.3 70,374.5 71,374.7 72,375.0 73,375.2 74,375.5 75,375.7 76,375.9 77,376.2 78,376.1 79,375.8 80,375.5 81,375.1 82,374.8 83,374.5 84,374.1 85,373.8 86,373.5 87,373.2 88,372.9 89,372.6 90,372.3 91,372.0 92,371.7 93,371.4 94,371.1 95,370.8 96,370.8 97,370.7 98,370.7 99,370.6 100,370.6 101,370.5 102,370.4 103,370.4 104,370.4 105,370.3 106,370.2 107,370.1 108,369.9 109,369.8 110,369.7 111,369.6 112,369.5 113,369.3 114,369.2 115,369.1 116,369.0 117,368.9 118,368.9 119,369.0 120,369.2 121,369.3 122,369.5 123,369.6 124,369.8 125,369.9 126,370.1 127,370.2 128,370.6 129,371.1 130,371.6 131,372.2 132,372.7 133,373.2 134,373.7 135,374.3 136,374.8 137,374.6 138,374.4 139,374.1 140,373.9 141,373.7 142,373.5 143,373.2 144,373.0 145,372.8 146,372.8 147,372.9 148,372.9 149,373.0 150,373.0 151,373.0 152,373.1 153,373.1 154,373.2 155,373.2 156,373.2 157,373.3 158,373.3 159,373.4 160,373.4 161,373.5 162,373.5 163,373.6 164,373.6 165,373.7 166,373.7 167,373.8 168,373.9 169,374.2 170,374.5 171,374.7 172,375.0 173,375.3 174,375.5 175,375.8 176,375.8 177,375.8 178,375.8 179,375.8 180,375.8 181,375.8 182,375.8 183,375.8 184,375.8 185,375.8 186,376.2 187,376.6 188,377.0 189,377.4 190,377.8 191,378.2 192,378.6 193,379.0 194,379.4 195,379.8 196,380.2 197,380.6 198,381.0 199,381.4 200,381.8 201,382.2 202,382.6 203,383.0 204,383.4 205,383.8 206,384.2 207,384.6 208,384.8 209,384.9 210,385.0 211,385.1 212,385.2 213,385.2 214,385.3 215,385.4 216,385.5 217,385.6 218,385.6 219,385.7 220,385.8 221,386.3 222,386.8 223,387.3 224,387.8 225,388.3 226,388.8 227,389.3 228,389.8 229,390.3 230,390.8 231,391.3 232,391.8 233,392.2 234,392.7 235,393.2 236,393.7 237,394.2 238,394.6 239,395.1 240,395.6 241,396.1 242,396.6 243,397.0 244,397.4 245,397.8 246,398.2 247,398.6 248,399.0 249,399.4 250,399.8 251,400.2 252,400.6 253,401.0 254,401.4 255,401.8 256,402.1 257,402.4 258,402.8 259,403.1 260,403.4 261,403.7 262,404.0 263,404.4 264,404.7 265,405.0 266,405.3 267,405.6 268,405.8 269,405.9 270,405.9 271,405.9 272,406.0 273,406.0 274,406.1 275,406.1 276,406.1 277,406.2 278,406.2 279,406.3 280,406.3 281,406.4 282,406.5 283,406.7 284,406.8 285,406.9 286,407.0 287,407.1 288,407.3 289,407.4 290,407.5 291,407.6 292,407.7 293,407.9 294,408.0 295,408.2 296,408.4 297,408.5 298,408.7 299,408.8 300,409.0 301,409.2 302,409.3 303,409.5 304,409.6 305,409.8 306,409.7 307,409.6 308,409.5 309,409.4 310,409.3 311,409.2 312,409.1 313,409.0 314,408.9 315,408.8 316,408.9 317,409.0 318,409.1 319,409.2 320,409.3 321,409.4 322,409.5 323,409.6 324,409.7 325,409.8 326,409.9 327,409.9 328,409.9 329,410.0 330,410.1 331,410.1 332,410.2 333,410.2 334,410.2 335,410.3 336,410.7 337,411.1 338,411.5 339,411.9 340,412.3 341,412.7 342,413.1 343,413.5 344,413.8 345,414.1 346,414.5 347,414.8 348,415.1 349,415.5 350,415.8 351,416.0 352,416.2 353,416.4 354,416.6 355,416.8 356,417.0 357,417.2 358,417.4 359,417.6 360,417.8 361,417.9 362,417.9 363,417.9 364,418.0 365,418.1 366,418.1 367,418.2 368,418.2 369,418.2 370,418.3 371,418.1 372,417.9 373,417.7 374,417.5 375,417.3 376,417.1 377,416.9 378,416.7 379,416.5 380,416.3 381,416.2 382,416.0 383,415.9 384,415.7 385,415.6 386,415.4 387,415.2 388,415.1 389,414.9 390,414.8 391,414.4 392,414.1 393,413.8 394,413.4 395,413.1 396,412.7 397,412.4 398,412.0 399,411.7 400,411.3 401,411.2 402,411.1 403,411.1 404,411.0 405,410.9 406,410.8 407,410.7 408,410.7 409,410.6 410,410.5 411,410.4 412,410.3 413,410.2 414,410.1 415,410.0 416,409.9 417,409.8 418,409.6 419,409.5 420,409.4 421,409.3 422,409.2 423,409.0 424,408.9 425,408.8 426,408.6 427,408.5 428,408.3 429,408.2 430,408.0 431,407.8 432,407.7 433,407.5 434,407.4 435,407.2 436,407.0 437,406.9 438,406.8 439,406.7 440,406.6 441,406.5 442,406.4 443,406.4 444,406.3 445,406.2 446,406.1 447,406.0 448,406.0 449,405.9 450,405.8 451,405.6 452,405.3 453,405.1 454,404.8 455,404.6 456,404.3 457,404.1 458,403.8 459,403.6 460,403.3 461,403.0 462,402.7 463,402.4 464,402.1 465,401.8 466,401.5 467,401.2 468,400.9 469,400.6 470,400.3 471,400.1 472,399.9 473,399.7 474,399.5 475,399.3 476,399.1 477,398.9 478,398.7 479,398.5 480,398.3 481,398.2 482,398.0 483,397.9 484,397.7 485,397.6 486,397.4 487,397.2 488,397.1 489,396.9 490,396.8 491,396.7 492,396.6 493,396.5 494,396.4 495,396.3 496,396.2 497,396.1 498,396.0 499,395.9 500,395.8 501,395.8 502,395.8 503,395.8 504,395.8 505,395.8 506,395.8 507,395.8 508,395.8 509,395.8 510,395.8 511,395.8 512,395.8 513,395.8 514,395.9 515,395.9 516,395.9 517,396.0 518,396.0 519,396.1 520,396.1 521,396.1 522,396.2 523,396.2 524,396.3 525,396.3 526,396.2 527,396.2 528,396.2 529,396.1 530,396.1 531,396.0 532,395.9 533,395.9 534,395.9 535,395.8 536,395.9 537,396.0 538,396.1 539,396.2 540,396.3 541,396.4 542,396.5 543,396.6 544,396.7 545,396.8 546,397.2 547,397.6 548,398.0 549,398.4 550,398.8 551,399.2 552,399.6 553,400.0 554,400.4 555,400.8 556,401.4 557,402.0 558,402.6 559,403.2 560,403.8 561,404.4 562,405.0 563,405.4 564,405.5 565,405.7 566,405.8 567,406.0 568,406.1 569,406.3 570,406.4 571,406.6 572,406.7 573,406.8 574,406.8 575,406.8 576,406.8 577,406.8 578,406.8 579,406.8 580,406.8 581,406.8 582,406.8 583,406.8 584,406.8 585,406.8 586,406.8 587,406.8 588,406.8 589,406.8 590,406.8 591,406.8 592,406.8 593,406.8 594,406.8 595,406.8 596,406.8 597,406.8 598,406.7 599,406.6 600,406.5 601,406.4 602,406.3 603,406.1 604,406.0 605,405.9 606,405.8 607,405.7 608,405.5 609,405.4 610,405.3 611,405.1 612,404.9 613,404.7 614,404.5 615,404.3 616,404.1 617,403.9 618,403.7 619,403.5 620,403.3 621,403.1 622,402.9 623,402.7 624,402.4 625,402.2 626,402.0 627,401.7 628,401.5 629,401.2 630,401.0 631,400.8 632,400.5 633,400.3 634,400.0 635,399.8 636,399.9 637,400.0 638,400.1 639,400.2 640,400.3 641,400.4 642,400.5 643,400.6 644,400.7 645,400.8 646,400.9 647,401.0 648,401.1 649,401.2 650,401.3 651,401.4 652,401.5 653,401.6 654,401.7 655,401.8 656,402.0 657,402.2 658,402.4 659,402.6 660,402.8 661,403.0 662,403.2 663,403.4 664,403.6 665,403.8 666,403.9 667,404.0 668,404.1 669,404.2 670,404.3 671,404.4 672,404.5 673,404.6 674,404.7 675,404.8 676,404.7 677,404.5 678,404.4 679,404.2 680,404.1 681,403.9 682,403.8 683,403.6 684,403.4 685,403.3 686,403.2 687,403.0 688,402.9 689,402.7 690,402.6 691,402.4 692,402.2 693,402.1 694,401.9 695,401.8 696,401.7 697,401.6 698,401.5 699,401.4 700,401.3" fill="none" stroke="#522006" stroke-width="1.25" stroke-linejoin="round"/>
<path d="M0,389.0 1,388.8 2,388.6 3,388.4 4,388.2 5,388.0 6,387.8 7,387.6 8,387.3 9,386.9 10,386.5 11,386.1 12,385.7 13,385.4 14,385.4 15,385.2 16,385.1 17,385.1 18,384.9 19,384.9 20,384.8 21,384.6 22,384.6 23,384.3 24,383.8 25,383.4 26,382.9 27,382.5 28,382.0 29,381.6 30,381.1 31,380.7 32,380.2 33,379.9 34,379.8 35,379.6 36,379.4 37,379.3 38,379.1 39,379.0 40,378.8 41,378.6 42,378.5 43,378.3 44,378.2 45,378.0 46,377.9 47,377.9 48,377.9 49,377.8 50,377.8 51,377.7 52,377.6 53,377.6 54,377.6 55,377.5 56,377.5 57,377.5 58,377.5 59,377.5 60,377.5 61,377.5 62,377.5 63,377.5 64,377.5 65,377.5 66,377.7 67,378.0 68,378.2 69,378.5 70,378.7 71,378.9 72,379.2 73,379.4 74,379.7 75,379.9 76,380.1 77,380.4 78,380.3 79,380.0 80,379.7 81,379.3 82,379.0 83,378.7 84,378.3 85,378.0 86,377.7 87,377.4 88,377.1 89,376.8 90,376.5 91,376.2 92,375.9 93,375.6 94,375.3 95,375.0 96,374.9 97,374.9 98,374.9 99,374.8 100,374.8 101,374.7 102,374.6 103,374.6 104,374.6 105,374.5 106,374.5 107,374.4 108,374.4 109,374.3 110,374.3 111,374.3 112,374.2 113,374.2 114,374.1 115,374.1 116,374.1 117,374.0 118,374.0 119,374.1 120,374.1 121,374.2 122,374.2 123,374.3 124,374.3 125,374.4 126,374.4 127,374.5 128,374.8 129,375.3 130,375.8 131,376.4 132,376.9 133,377.4 134,377.9 135,378.5 136,379.0 137,378.8 138,378.7 139,378.5 140,378.3 141,378.2 142,378.0 143,377.8 144,377.7 145,377.5 146,377.5 147,377.6 148,377.6 149,377.7 150,377.7 151,377.7 152,377.8 153,377.8 154,377.9 155,377.9 156,377.9 157,378.0 158,378.0 159,378.0 160,378.0 161,378.0 162,378.0 163,378.0 164,378.0 165,378.0 166,378.0 167,378.0 168,378.2 169,378.5 170,378.8 171,379.2 172,379.5 173,379.8 174,380.2 175,380.5 176,380.5 177,380.5 178,380.5 179,380.5 180,380.5 181,380.5 182,380.5 183,380.5 184,380.5 185,380.5 186,380.9 187,381.3 188,381.7 189,382.1 190,382.5 191,382.9 192,383.3 193,383.7 194,384.1 195,384.5 196,384.9 197,385.2 198,385.6 199,385.9 200,386.3 201,386.7 202,387.0 203,387.4 204,387.7 205,388.1 206,388.5 207,388.8 208,389.0 209,389.1 210,389.2 211,389.3 212,389.4 213,389.4 214,389.5 215,389.6 216,389.7 217,389.8 218,389.8 219,389.9 220,390.0 221,390.5 222,391.0 223,391.5 224,392.0 225,392.5 226,393.0 227,393.5 228,394.0 229,394.5 230,395.0 231,395.5 232,396.0 233,396.4 234,396.9 235,397.4 236,397.9 237,398.4 238,398.8 239,399.3 240,399.8 241,400.3 242,400.8 243,401.2 244,401.7 245,402.2 246,402.7 247,403.2 248,403.6 249,404.1 250,404.6 251,405.1 252,405.6 253,406.0 254,406.5 255,407.0 256,407.3 257,407.6 258,408.0 259,408.3 260,408.6 261,408.9 262,409.2 263,409.6 264,409.9 265,410.2 266,410.5 267,410.8 268,411.0 269,411.0 270,411.0 271,411.0 272,411.0 273,411.0 274,411.0 275,411.0 276,411.0 277,411.0 278,411.0 279,411.0 280,411.0 281,411.2 282,411.3 283,411.5 284,411.6 285,411.8 286,412.0 287,412.1 288,412.3 289,412.4 290,412.6 291,412.8 292,412.9 293,413.1 294,413.3 295,413.5 296,413.7 297,413.9 298,414.1 299,414.3 300,414.5 301,414.7 302,414.9 303,415.1 304,415.3 305,415.5 306,415.4 307,415.3 308,415.2 309,415.1 310,415.0 311,414.9 312,414.8 313,414.7 314,414.6 315,414.5 316,414.6 317,414.7 318,414.8 319,414.9 320,415.0 321,415.1 322,415.2 323,415.3 324,415.4 325,415.5 326,415.5 327,415.5 328,415.5 329,415.5 330,415.5 331,415.5 332,415.5 333,415.5 334,415.5 335,415.5 336,415.8 337,416.2 338,416.5 339,416.8 340,417.2 341,417.5 342,417.8 343,418.1 344,418.4 345,418.7 346,418.9 347,419.2 348,419.5 349,419.7 350,420.0 351,420.2 352,420.4 353,420.6 354,420.8 355,421.0 356,421.2 357,421.4 358,421.6 359,421.8 360,422.0 361,422.0 362,422.0 363,422.0 364,422.0 365,422.0 366,422.0 367,422.0 368,422.0 369,422.0 370,422.0 371,421.8 372,421.6 373,421.4 374,421.2 375,421.0 376,420.8 377,420.6 378,420.4 379,420.2 380,420.0 381,419.9 382,419.8 383,419.7 384,419.6 385,419.5 386,419.4 387,419.3 388,419.2 389,419.1 390,419.0 391,418.6 392,418.3 393,417.9 394,417.6 395,417.2 396,416.9 397,416.6 398,416.2 399,415.9 400,415.5 401,415.4 402,415.3 403,415.3 404,415.2 405,415.1 406,415.0 407,414.9 408,414.9 409,414.8 410,414.7 411,414.6 412,414.5 413,414.4 414,414.3 415,414.2 416,414.1 417,414.0 418,413.8 419,413.7 420,413.6 421,413.5 422,413.4 423,413.2 424,413.1 425,413.0 426,412.8 427,412.7 428,412.5 429,412.4 430,412.2 431,412.0 432,411.9 433,411.7 434,411.6 435,411.4 436,411.2 437,411.1 438,411.0 439,410.9 440,410.8 441,410.7 442,410.6 443,410.6 444,410.5 445,410.4 446,410.3 447,410.2 448,410.2 449,410.1 450,410.0 451,409.8 452,409.5 453,409.2 454,409.0 455,408.8 456,408.5 457,408.2 458,408.0 459,407.8 460,407.5 461,407.2 462,406.9 463,406.6 464,406.3 465,406.0 466,405.7 467,405.4 468,405.1 469,404.8 470,404.5 471,404.3 472,404.1 473,403.9 474,403.7 475,403.5 476,403.3 477,403.1 478,402.9 479,402.7 480,402.5 481,402.4 482,402.2 483,402.1 484,401.9 485,401.8 486,401.6 487,401.4 488,401.3 489,401.1 490,401.0 491,400.9 492,400.9 493,400.9 494,400.8 495,400.8 496,400.7 497,400.6 498,400.6 499,400.6 500,400.5 501,400.5 502,400.5 503,400.5 504,400.5 505,400.5 506,400.5 507,400.5 508,400.5 509,400.5 510,400.5 511,400.5 512,400.5 513,400.5 514,400.6 515,400.6 516,400.6 517,400.7 518,400.7 519,400.8 520,400.8 521,400.8 522,400.9 523,400.9 524,401.0 525,401.0 526,400.9 527,400.9 528,400.9 529,400.8 530,400.8 531,400.7 532,400.6 533,400.6 534,400.6 535,400.5 536,400.6 537,400.8 538,400.9 539,401.1 540,401.2 541,401.4 542,401.6 543,401.7 544,401.9 545,402.0 546,402.4 547,402.8 548,403.2 549,403.6 550,404.0 551,404.4 552,404.8 553,405.2 554,405.6 555,406.0 556,406.5 557,407.1 558,407.6 559,408.1 560,408.7 561,409.2 562,409.7 563,410.1 564,410.3 565,410.5 566,410.7 567,410.9 568,411.1 569,411.3 570,411.5 571,411.7 572,411.9 573,412.0 574,412.1 575,412.1 576,412.1 577,412.2 578,412.2 579,412.3 580,412.3 581,412.3 582,412.4 583,412.4 584,412.5 585,412.5 586,412.5 587,412.5 588,412.5 589,412.5 590,412.5 591,412.5 592,412.5 593,412.5 594,412.5 595,412.5 596,412.5 597,412.5 598,412.4 599,412.3 600,412.1 601,411.9 602,411.8 603,411.6 604,411.5 605,411.3 606,411.1 607,411.0 608,410.8 609,410.7 610,410.5 611,410.3 612,410.1 613,409.9 614,409.7 615,409.5 616,409.3 617,409.1 618,408.9 619,408.7 620,408.5 621,408.3 622,408.1 623,407.9 624,407.7 625,407.5 626,407.3 627,407.1 628,406.9 629,406.7 630,406.5 631,406.3 632,406.1 633,405.9 634,405.7 635,405.5 636,405.6 637,405.6 638,405.6 639,405.7 640,405.8 641,405.8 642,405.9 643,405.9 644,405.9 645,406.0 646,406.1 647,406.2 648,406.3 649,406.4 650,406.5 651,406.6 652,406.7 653,406.8 654,406.9 655,407.0 656,407.2 657,407.4 658,407.6 659,407.8 660,408.0 661,408.2 662,408.4 663,408.6 664,408.8 665,409.0 666,409.1 667,409.1 668,409.1 669,409.2 670,409.2 671,409.3 672,409.4 673,409.4 674,409.4 675,409.5 676,409.4 677,409.4 678,409.4 679,409.3 680,409.2 681,409.2 682,409.1 683,409.1 684,409.1 685,409.0 686,408.8 687,408.6 688,408.4 689,408.2 690,408.0 691,407.8 692,407.6 693,407.4 694,407.2 695,407.0 696,407.0 697,407.0 698,407.0 699,407.0 700,407.0 L700,565 L0,565Z" fill="#191582" stroke="none"/>
<path d="M0,389.0 1,388.8 2,388.6 3,388.4 4,388.2 5,388.0 6,387.8 7,387.6 8,387.3 9,386.9 10,386.5 11,386.1 12,385.7 13,385.4 14,385.4 15,385.2 16,385.1 17,385.1 18,384.9 19,384.9 20,384.8 21,384.6 22,384.6 23,384.3 24,383.8 25,383.4 26,382.9 27,382.5 28,382.0 29,381.6 30,381.1 31,380.7 32,380.2 33,379.9 34,379.8 35,379.6 36,379.4 37,379.3 38,379.1 39,379.0 40,378.8 41,378.6 42,378.5 43,378.3 44,378.2 45,378.0 46,377.9 47,377.9 48,377.9 49,377.8 50,377.8 51,377.7 52,377.6 53,377.6 54,377.6 55,377.5 56,377.5 57,377.5 58,377.5 59,377.5 60,377.5 61,377.5 62,377.5 63,377.5 64,377.5 65,377.5 66,377.7 67,378.0 68,378.2 69,378.5 70,378.7 71,378.9 72,379.2 73,379.4 74,379.7 75,379.9 76,380.1 77,380.4 78,380.3 79,380.0 80,379.7 81,379.3 82,379.0 83,378.7 84,378.3 85,378.0 86,377.7 87,377.4 88,377.1 89,376.8 90,376.5 91,376.2 92,375.9 93,375.6 94,375.3 95,375.0 96,374.9 97,374.9 98,374.9 99,374.8 100,374.8 101,374.7 102,374.6 103,374.6 104,374.6 105,374.5 106,374.5 107,374.4 108,374.4 109,374.3 110,374.3 111,374.3 112,374.2 113,374.2 114,374.1 115,374.1 116,374.1 117,374.0 118,374.0 119,374.1 120,374.1 121,374.2 122,374.2 123,374.3 124,374.3 125,374.4 126,374.4 127,374.5 128,374.8 129,375.3 130,375.8 131,376.4 132,376.9 133,377.4 134,377.9 135,378.5 136,379.0 137,378.8 138,378.7 139,378.5 140,378.3 141,378.2 142,378.0 143,377.8 144,377.7 145,377.5 146,377.5 147,377.6 148,377.6 149,377.7 150,377.7 151,377.7 152,377.8 153,377.8 154,377.9 155,377.9 156,377.9 157,378.0 158,378.0 159,378.0 160,378.0 161,378.0 162,378.0 163,378.0 164,378.0 165,378.0 166,378.0 167,378.0 168,378.2 169,378.5 170,378.8 171,379.2 172,379.5 173,379.8 174,380.2 175,380.5 176,380.5 177,380.5 178,380.5 179,380.5 180,380.5 181,380.5 182,380.5 183,380.5 184,380.5 185,380.5 186,380.9 187,381.3 188,381.7 189,382.1 190,382.5 191,382.9 192,383.3 193,383.7 194,384.1 195,384.5 196,384.9 197,385.2 198,385.6 199,385.9 200,386.3 201,386.7 202,387.0 203,387.4 204,387.7 205,388.1 206,388.5 207,388.8 208,389.0 209,389.1 210,389.2 211,389.3 212,389.4 213,389.4 214,389.5 215,389.6 216,389.7 217,389.8 218,389.8 219,389.9 220,390.0 221,390.5 222,391.0 223,391.5 224,392.0 225,392.5 226,393.0 227,393.5 228,394.0 229,394.5 230,395.0 231,395.5 232,396.0 233,396.4 234,396.9 235,397.4 236,397.9 237,398.4 238,398.8 239,399.3 240,399.8 241,400.3 242,400.8 243,401.2 244,401.7 245,402.2 246,402.7 247,403.2 248,403.6 249,404.1 250,404.6 251,405.1 252,405.6 253,406.0 254,406.5 255,407.0 256,407.3 257,407.6 258,408.0 259,408.3 260,408.6 261,408.9 262,409.2 263,409.6 264,409.9 265,410.2 266,410.5 267,410.8 268,411.0 269,411.0 270,411.0 271,411.0 272,411.0 273,411.0 274,411.0 275,411.0 276,411.0 277,411.0 278,411.0 279,411.0 280,411.0 281,411.2 282,411.3 283,411.5 284,411.6 285,411.8 286,412.0 287,412.1 288,412.3 289,412.4 290,412.6 291,412.8 292,412.9 293,413.1 294,413.3 295,413.5 296,413.7 297,413.9 298,414.1 299,414.3 300,414.5 301,414.7 302,414.9 303,415.1 304,415.3 305,415.5 306,415.4 307,415.3 308,415.2 309,415.1 310,415.0 311,414.9 312,414.8 313,414.7 314,414.6 315,414.5 316,414.6 317,414.7 318,414.8 319,414.9 320,415.0 321,415.1 322,415.2 323,415.3 324,415.4 325,415.5 326,415.5 327,415.5 328,415.5 329,415.5 330,415.5 331,415.5 332,415.5 333,415.5 334,415.5 335,415.5 336,415.8 337,416.2 338,416.5 339,416.8 340,417.2 341,417.5 342,417.8 343,418.1 344,418.4 345,418.7 346,418.9 347,419.2 348,419.5 349,419.7 350,420.0 351,420.2 352,420.4 353,420.6 354,420.8 355,421.0 356,421.2 357,421.4 358,421.6 359,421.8 360,422.0 361,422.0 362,422.0 363,422.0 364,422.0 365,422.0 366,422.0 367,422.0 368,422.0 369,422.0 370,422.0 371,421.8 372,421.6 373,421.4 374,421.2 375,421.0 376,420.8 377,420.6 378,420.4 379,420.2 380,420.0 381,419.9 382,419.8 383,419.7 384,419.6 385,419.5 386,419.4 387,419.3 388,419.2 389,419.1 390,419.0 391,418.6 392,418.3 393,417.9 394,417.6 395,417.2 396,416.9 397,416.6 398,416.2 399,415.9 400,415.5 401,415.4 402,415.3 403,415.3 404,415.2 405,415.1 406,415.0 407,414.9 408,414.9 409,414.8 410,414.7 411,414.6 412,414.5 413,414.4 414,414.3 415,414.2 416,414.1 417,414.0 418,413.8 419,413.7 420,413.6 421,413.5 422,413.4 423,413.2 424,413.1 425,413.0 426,412.8 427,412.7 428,412.5 429,412.4 430,412.2 431,412.0 432,411.9 433,411.7 434,411.6 435,411.4 436,411.2 437,411.1 438,411.0 439,410.9 440,410.8 441,410.7 442,410.6 443,410.6 444,410.5 445,410.4 446,410.3 447,410.2 448,410.2 449,410.1 450,410.0 451,409.8 452,409.5 453,409.2 454,409.0 455,408.8 456,408.5 457,408.2 458,408.0 459,407.8 460,407.5 461,407.2 462,406.9 463,406.6 464,406.3 465,406.0 466,405.7 467,405.4 468,405.1 469,404.8 470,404.5 471,404.3 472,404.1 473,403.9 474,403.7 475,403.5 476,403.3 477,403.1 478,402.9 479,402.7 480,402.5 481,402.4 482,402.2 483,402.1 484,401.9 485,401.8 486,401.6 487,401.4 488,401.3 489,401.1 490,401.0 491,400.9 492,400.9 493,400.9 494,400.8 495,400.8 496,400.7 497,400.6 498,400.6 499,400.6 500,400.5 501,400.5 502,400.5 503,400.5 504,400.5 505,400.5 506,400.5 507,400.5 508,400.5 509,400.5 510,400.5 511,400.5 512,400.5 513,400.5 514,400.6 515,400.6 516,400.6 517,400.7 518,400.7 519,400.8 520,400.8 521,400.8 522,400.9 523,400.9 524,401.0 525,401.0 526,400.9 527,400.9 528,400.9 529,400.8 530,400.8 531,400.7 532,400.6 533,400.6 534,400.6 535,400.5 536,400.6 537,400.8 538,400.9 539,401.1 540,401.2 541,401.4 542,401.6 543,401.7 544,401.9 545,402.0 546,402.4 547,402.8 548,403.2 549,403.6 550,404.0 551,404.4 552,404.8 553,405.2 554,405.6 555,406.0 556,406.5 557,407.1 558,407.6 559,408.1 560,408.7 561,409.2 562,409.7 563,410.1 564,410.3 565,410.5 566,410.7 567,410.9 568,411.1 569,411.3 570,411.5 571,411.7 572,411.9 573,412.0 574,412.1 575,412.1 576,412.1 577,412.2 578,412.2 579,412.3 580,412.3 581,412.3 582,412.4 583,412.4 584,412.5 585,412.5 586,412.5 587,412.5 588,412.5 589,412.5 590,412.5 591,412.5 592,412.5 593,412.5 594,412.5 595,412.5 596,412.5 597,412.5 598,412.4 599,412.3 600,412.1 601,411.9 602,411.8 603,411.6 604,411.5 605,411.3 606,411.1 607,411.0 608,410.8 609,410.7 610,410.5 611,410.3 612,410.1 613,409.9 614,409.7 615,409.5 616,409.3 617,409.1 618,408.9 619,408.7 620,408.5 621,408.3 622,408.1 623,407.9 624,407.7 625,407.5 626,407.3 627,407.1 628,406.9 629,406.7 630,406.5 631,406.3 632,406.1 633,405.9 634,405.7 635,405.5 636,405.6 637,405.6 638,405.6 639,405.7 640,405.8 641,405.8 642,405.9 643,405.9 644,405.9 645,406.0 646,406.1 647,406.2 648,406.3 649,406.4 650,406.5 651,406.6 652,406.7 653,406.8 654,406.9 655,407.0 656,407.2 657,407.4 658,407.6 659,407.8 660,408.0 661,408.2 662,408.4 663,408.6 664,408.8 665,409.0 666,409.1 667,409.1 668,409.1 669,409.2 670,409.2 671,409.3 672,409.4 673,409.4 674,409.4 675,409.5 676,409.4 677,409.4 678,409.4 679,409.3 680,409.2 681,409.2 682,409.1 683,409.1 684,409.1 685,409.0 686,408.8 687,408.6 688,408.4 689,408.2 690,408.0 691,407.8 692,407.6 693,407.4 694,407.2 695,407.0 696,407.0 697,407.0 698,407.0 699,407.0 700,407.0" fill="none" stroke="#0c0b41" stroke-width="1.25" stroke-linejoin="round"/>
<path d="M0,501.0 1,500.8 2,500.6 3,500.4 4,500.2 5,500.0 6,499.8 7,499.6 8,499.5 9,499.4 10,499.3 11,499.3 12,499.2 13,499.1 14,499.1 15,499.0 16,498.8 17,498.6 18,498.4 19,498.2 20,498.0 21,497.8 22,497.6 23,497.3 24,497.0 25,496.6 26,496.3 27,495.9 28,495.6 29,495.2 30,494.9 31,494.5 32,494.2 33,493.9 34,493.8 35,493.6 36,493.4 37,493.3 38,493.1 39,493.0 40,492.8 41,492.6 42,492.5 43,492.3 44,492.2 45,492.0 46,491.9 47,491.8 48,491.8 49,491.7 50,491.6 51,491.5 52,491.4 53,491.4 54,491.3 55,491.2 56,491.1 57,491.0 58,491.1 59,491.1 60,491.2 61,491.4 62,491.4 63,491.6 64,491.6 65,491.8 66,491.9 67,491.9 68,492.1 69,492.3 70,492.4 71,492.6 72,492.8 73,493.0 74,493.1 75,493.3 76,493.5 77,493.7 78,493.8 79,494.0 80,493.6 81,493.1 82,492.7 83,492.3 84,491.9 85,491.4 86,491.0 87,490.8 88,490.6 89,490.3 90,490.1 91,489.9 92,489.7 93,489.4 94,489.2 95,489.0 96,488.9 97,488.8 98,488.7 99,488.6 100,488.5 101,488.4 102,488.3 103,488.2 104,488.1 105,488.0 106,487.9 107,487.8 108,487.8 109,487.7 110,487.6 111,487.5 112,487.4 113,487.4 114,487.3 115,487.2 116,487.1 117,487.0 118,487.1 119,487.1 120,487.2 121,487.4 122,487.4 123,487.6 124,487.6 125,487.8 126,487.9 127,487.9 128,488.2 129,488.7 130,489.2 131,489.6 132,490.1 133,490.6 134,491.1 135,491.5 136,492.0 137,491.9 138,491.8 139,491.7 140,491.6 141,491.4 142,491.3 143,491.2 144,491.1 145,491.0 146,491.0 147,491.0 148,491.0 149,491.0 150,491.0 151,491.0 152,491.0 153,491.0 154,491.0 155,491.0 156,491.0 157,491.0 158,491.1 159,491.1 160,491.2 161,491.4 162,491.4 163,491.6 164,491.6 165,491.8 166,491.9 167,491.9 168,492.1 169,492.4 170,492.7 171,492.9 172,493.2 173,493.5 174,493.7 175,494.0 176,494.0 177,494.0 178,494.0 179,494.0 180,494.0 181,494.0 182,494.0 183,494.0 184,494.0 185,494.0 186,494.4 187,494.7 188,495.1 189,495.4 190,495.8 191,496.1 192,496.4 193,496.8 194,497.1 195,497.5 196,497.9 197,498.3 198,498.7 199,499.1 200,499.5 201,499.9 202,500.3 203,500.7 204,501.1 205,501.5 206,501.9 207,502.3 208,502.6 209,502.7 210,502.8 211,502.9 212,503.0 213,503.2 214,503.3 215,503.4 216,503.5 217,503.6 218,503.8 219,503.9 220,504.0 221,504.5 222,505.0 223,505.5 224,506.0 225,506.5 226,507.0 227,507.5 228,508.0 229,508.5 230,509.0 231,509.5 232,510.0 233,510.4 234,510.9 235,511.4 236,511.9 237,512.4 238,512.8 239,513.3 240,513.8 241,514.3 242,514.8 243,515.2 244,515.6 245,516.0 246,516.4 247,516.8 248,517.2 249,517.6 250,518.0 251,518.4 252,518.8 253,519.2 254,519.6 255,520.0 256,520.4 257,520.8 258,521.2 259,521.6 260,522.0 261,522.4 262,522.8 263,523.2 264,523.6 265,524.0 266,524.4 267,524.8 268,525.0 269,525.1 270,525.1 271,525.1 272,525.2 273,525.2 274,525.3 275,525.3 276,525.3 277,525.4 278,525.4 279,525.5 280,525.5 281,525.7 282,525.8 283,526.0 284,526.1 285,526.3 286,526.5 287,526.6 288,526.8 289,526.9 290,527.1 291,527.3 292,527.4 293,527.6 294,527.7 295,527.9 296,528.1 297,528.2 298,528.4 299,528.5 300,528.7 301,528.9 302,529.0 303,529.2 304,529.3 305,529.5 306,529.5 307,529.4 308,529.4 309,529.3 310,529.2 311,529.2 312,529.1 313,529.1 314,529.0 315,529.0 316,529.1 317,529.2 318,529.3 319,529.4 320,529.5 321,529.6 322,529.7 323,529.8 324,529.9 325,530.0 326,530.0 327,530.1 328,530.1 329,530.2 330,530.2 331,530.3 332,530.4 333,530.4 334,530.5 335,530.5 336,530.7 337,530.9 338,531.1 339,531.3 340,531.5 341,531.7 342,531.9 343,532.1 344,532.2 345,532.3 346,532.5 347,532.6 348,532.7 349,532.9 350,533.0 351,533.1 352,533.3 353,533.5 354,533.6 355,533.8 356,533.9 357,534.0 358,534.2 359,534.4 360,534.5 361,534.5 362,534.6 363,534.6 364,534.7 365,534.7 366,534.7 367,534.8 368,534.8 369,534.9 370,534.9 371,534.9 372,535.0 373,534.9 374,534.7 375,534.5 376,534.3 377,534.1 378,533.9 379,533.7 380,533.5 381,533.3 382,533.1 383,532.9 384,532.7 385,532.5 386,532.3 387,532.1 388,531.9 389,531.7 390,531.5 391,531.3 392,531.1 393,530.9 394,530.5 395,530.2 396,530.0 397,529.6 398,529.4 399,529.0 400,528.8 401,528.5 402,528.1 403,528.0 404,527.9 405,527.8 406,527.7 407,527.6 408,527.6 409,527.5 410,527.4 411,527.3 412,527.2 413,527.2 414,527.1 415,527.0 416,526.9 417,526.8 418,526.7 419,526.6 420,526.5 421,526.4 422,526.3 423,526.2 424,526.1 425,526.0 426,525.9 427,525.8 428,525.6 429,525.5 430,525.4 431,525.3 432,525.2 433,525.0 434,524.9 435,524.8 436,524.7 437,524.6 438,524.4 439,524.3 440,524.2 441,524.1 442,524.0 443,523.8 444,523.7 445,523.6 446,523.5 447,523.4 448,523.2 449,523.1 450,523.0 451,522.8 452,522.6 453,522.4 454,522.2 455,522.0 456,521.8 457,521.6 458,521.4 459,521.2 460,521.0 461,520.6 462,520.3 463,520.0 464,519.6 465,519.2 466,518.9 467,518.5 468,518.2 469,517.9 470,517.5 471,517.3 472,517.1 473,516.9 474,516.7 475,516.5 476,516.3 477,516.1 478,515.9 479,515.7 480,515.5 481,515.4 482,515.3 483,515.2 484,515.1 485,515.0 486,514.9 487,514.8 488,514.7 489,514.6 490,514.5 491,514.5 492,514.4 493,514.4 494,514.3 495,514.2 496,514.2 497,514.1 498,514.1 499,514.0 500,514.0 501,514.0 502,514.0 503,514.0 504,514.0 505,514.0 506,514.0 507,514.0 508,514.0 509,514.0 510,514.0 511,514.0 512,514.0 513,514.0 514,514.1 515,514.1 516,514.1 517,514.2 518,514.2 519,514.3 520,514.3 521,514.3 522,514.4 523,514.4 524,514.5 525,514.5 526,514.5 527,514.4 528,514.4 529,514.3 530,514.2 531,514.2 532,514.1 533,514.1 534,514.0 535,514.0 536,514.1 537,514.2 538,514.4 539,514.5 540,514.6 541,514.7 542,514.8 543,515.0 544,515.1 545,515.2 546,515.3 547,515.4 548,515.7 549,516.1 550,516.5 551,516.9 552,517.3 553,517.7 554,518.1 555,518.5 556,518.9 557,519.3 558,519.7 559,520.0 560,520.4 561,520.7 562,521.1 563,521.4 564,521.8 565,522.1 566,522.5 567,522.8 568,523.1 569,523.2 570,523.4 571,523.5 572,523.7 573,523.8 574,524.0 575,524.1 576,524.3 577,524.4 578,524.5 579,524.5 580,524.5 581,524.5 582,524.5 583,524.5 584,524.5 585,524.5 586,524.5 587,524.5 588,524.5 589,524.5 590,524.5 591,524.5 592,524.5 593,524.5 594,524.5 595,524.5 596,524.5 597,524.5 598,524.5 599,524.5 600,524.5 601,524.5 602,524.5 603,524.4 604,524.3 605,524.1 606,523.9 607,523.8 608,523.6 609,523.5 610,523.3 611,523.1 612,523.0 613,522.8 614,522.7 615,522.5 616,522.3 617,522.1 618,521.9 619,521.7 620,521.5 621,521.3 622,521.1 623,520.9 624,520.7 625,520.5 626,520.2 627,520.0 628,519.8 629,519.5 630,519.2 631,519.0 632,518.8 633,518.5 634,518.2 635,518.0 636,518.1 637,518.2 638,518.3 639,518.4 640,518.5 641,518.6 642,518.7 643,518.8 644,518.9 645,519.0 646,519.0 647,519.1 648,519.1 649,519.2 650,519.2 651,519.3 652,519.4 653,519.4 654,519.5 655,519.5 656,519.6 657,519.7 658,519.8 659,519.9 660,520.0 661,520.1 662,520.2 663,520.3 664,520.4 665,520.5 666,520.5 667,520.6 668,520.6 669,520.7 670,520.8 671,520.8 672,520.9 673,520.9 674,521.0 675,521.0 676,521.0 677,520.9 678,520.9 679,520.8 680,520.8 681,520.7 682,520.6 683,520.6 684,520.5 685,520.5 686,520.5 687,520.4 688,520.4 689,520.3 690,520.2 691,520.2 692,520.1 693,520.1 694,520.0 695,520.0 696,519.9 697,519.8 698,519.7 699,519.6 700,519.5 L700,565 L0,565Z" fill="#4aa903" stroke="none"/>
<path d="M0,501.0 1,500.8 2,500.6 3,500.4 4,500.2 5,500.0 6,499.8 7,499.6 8,499.5 9,499.4 10,499.3 11,499.3 12,499.2 13,499.1 14,499.1 15,499.0 16,498.8 17,498.6 18,498.4 19,498.2 20,498.0 21,497.8 22,497.6 23,497.3 24,497.0 25,496.6 26,496.3 27,495.9 28,495.6 29,495.2 30,494.9 31,494.5 32,494.2 33,493.9 34,493.8 35,493.6 36,493.4 37,493.3 38,493.1 39,493.0 40,492.8 41,492.6 42,492.5 43,492.3 44,492.2 45,492.0 46,491.9 47,491.8 48,491.8 49,491.7 50,491.6 51,491.5 52,491.4 53,491.4 54,491.3 55,491.2 56,491.1 57,491.0 58,491.1 59,491.1 60,491.2 61,491.4 62,491.4 63,491.6 64,491.6 65,491.8 66,491.9 67,491.9 68,492.1 69,492.3 70,492.4 71,492.6 72,492.8 73,493.0 74,493.1 75,493.3 76,493.5 77,493.7 78,493.8 79,494.0 80,493.6 81,493.1 82,492.7 83,492.3 84,491.9 85,491.4 86,491.0 87,490.8 88,490.6 89,490.3 90,490.1 91,489.9 92,489.7 93,489.4 94,489.2 95,489.0 96,488.9 97,488.8 98,488.7 99,488.6 100,488.5 101,488.4 102,488.3 103,488.2 104,488.1 105,488.0 106,487.9 107,487.8 108,487.8 109,487.7 110,487.6 111,487.5 112,487.4 113,487.4 114,487.3 115,487.2 116,487.1 117,487.0 118,487.1 119,487.1 120,487.2 121,487.4 122,487.4 123,487.6 124,487.6 125,487.8 126,487.9 127,487.9 128,488.2 129,488.7 130,489.2 131,489.6 132,490.1 133,490.6 134,491.1 135,491.5 136,492.0 137,491.9 138,491.8 139,491.7 140,491.6 141,491.4 142,491.3 143,491.2 144,491.1 145,491.0 146,491.0 147,491.0 148,491.0 149,491.0 150,491.0 151,491.0 152,491.0 153,491.0 154,491.0 155,491.0 156,491.0 157,491.0 158,491.1 159,491.1 160,491.2 161,491.4 162,491.4 163,491.6 164,491.6 165,491.8 166,491.9 167,491.9 168,492.1 169,492.4 170,492.7 171,492.9 172,493.2 173,493.5 174,493.7 175,494.0 176,494.0 177,494.0 178,494.0 179,494.0 180,494.0 181,494.0 182,494.0 183,494.0 184,494.0 185,494.0 186,494.4 187,494.7 188,495.1 189,495.4 190,495.8 191,496.1 192,496.4 193,496.8 194,497.1 195,497.5 196,497.9 197,498.3 198,498.7 199,499.1 200,499.5 201,499.9 202,500.3 203,500.7 204,501.1 205,501.5 206,501.9 207,502.3 208,502.6 209,502.7 210,502.8 211,502.9 212,503.0 213,503.2 214,503.3 215,503.4 216,503.5 217,503.6 218,503.8 219,503.9 220,504.0 221,504.5 222,505.0 223,505.5 224,506.0 225,506.5 226,507.0 227,507.5 228,508.0 229,508.5 230,509.0 231,509.5 232,510.0 233,510.4 234,510.9 235,511.4 236,511.9 237,512.4 238,512.8 239,513.3 240,513.8 241,514.3 242,514.8 243,515.2 244,515.6 245,516.0 246,516.4 247,516.8 248,517.2 249,517.6 250,518.0 251,518.4 252,518.8 253,519.2 254,519.6 255,520.0 256,520.4 257,520.8 258,521.2 259,521.6 260,522.0 261,522.4 262,522.8 263,523.2 264,523.6 265,524.0 266,524.4 267,524.8 268,525.0 269,525.1 270,525.1 271,525.1 272,525.2 273,525.2 274,525.3 275,525.3 276,525.3 277,525.4 278,525.4 279,525.5 280,525.5 281,525.7 282,525.8 283,526.0 284,526.1 285,526.3 286,526.5 287,526.6 288,526.8 289,526.9 290,527.1 291,527.3 292,527.4 293,527.6 294,527.7 295,527.9 296,528.1 297,528.2 298,528.4 299,528.5 300,528.7 301,528.9 302,529.0 303,529.2 304,529.3 305,529.5 306,529.5 307,529.4 308,529.4 309,529.3 310,529.2 311,529.2 312,529.1 313,529.1 314,529.0 315,529.0 316,529.1 317,529.2 318,529.3 319,529.4 320,529.5 321,529.6 322,529.7 323,529.8 324,529.9 325,530.0 326,530.0 327,530.1 328,530.1 329,530.2 330,530.2 331,530.3 332,530.4 333,530.4 334,530.5 335,530.5 336,530.7 337,530.9 338,531.1 339,531.3 340,531.5 341,531.7 342,531.9 343,532.1 344,532.2 345,532.3 346,532.5 347,532.6 348,532.7 349,532.9 350,533.0 351,533.1 352,533.3 353,533.5 354,533.6 355,533.8 356,533.9 357,534.0 358,534.2 359,534.4 360,534.5 361,534.5 362,534.6 363,534.6 364,534.7 365,534.7 366,534.7 367,534.8 368,534.8 369,534.9 370,534.9 371,534.9 372,535.0 373,534.9 374,534.7 375,534.5 376,534.3 377,534.1 378,533.9 379,533.7 380,533.5 381,533.3 382,533.1 383,532.9 384,532.7 385,532.5 386,532.3 387,532.1 388,531.9 389,531.7 390,531.5 391,531.3 392,531.1 393,530.9 394,530.5 395,530.2 396,530.0 397,529.6 398,529.4 399,529.0 400,528.8 401,528.5 402,528.1 403,528.0 404,527.9 405,527.8 406,527.7 407,527.6 408,527.6 409,527.5 410,527.4 411,527.3 412,527.2 413,527.2 414,527.1 415,527.0 416,526.9 417,526.8 418,526.7 419,526.6 420,526.5 421,526.4 422,526.3 423,526.2 424,526.1 425,526.0 426,525.9 427,525.8 428,525.6 429,525.5 430,525.4 431,525.3 432,525.2 433,525.0 434,524.9 435,524.8 436,524.7 437,524.6 438,524.4 439,524.3 440,524.2 441,524.1 442,524.0 443,523.8 444,523.7 445,523.6 446,523.5 447,523.4 448,523.2 449,523.1 450,523.0 451,522.8 452,522.6 453,522.4 454,522.2 455,522.0 456,521.8 457,521.6 458,521.4 459,521.2 460,521.0 461,520.6 462,520.3 463,520.0 464,519.6 465,519.2 466,518.9 467,518.5 468,518.2 469,517.9 470,517.5 471,517.3 472,517.1 473,516.9 474,516.7 475,516.5 476,516.3 477,516.1 478,515.9 479,515.7 480,515.5 481,515.4 482,515.3 483,515.2 484,515.1 485,515.0 486,514.9 487,514.8 488,514.7 489,514.6 490,514.5 491,514.5 492,514.4 493,514.4 494,514.3 495,514.2 496,514.2 497,514.1 498,514.1 499,514.0 500,514.0 501,514.0 502,514.0 503,514.0 504,514.0 505,514.0 506,514.0 507,514.0 508,514.0 509,514.0 510,514.0 511,514.0 512,514.0 513,514.0 514,514.1 515,514.1 516,514.1 517,514.2 518,514.2 519,514.3 520,514.3 521,514.3 522,514.4 523,514.4 524,514.5 525,514.5 526,514.5 527,514.4 528,514.4 529,514.3 530,514.2 531,514.2 532,514.1 533,514.1 534,514.0 535,514.0 536,514.1 537,514.2 538,514.4 539,514.5 540,514.6 541,514.7 542,514.8 543,515.0 544,515.1 545,515.2 546,515.3 547,515.4 548,515.7 549,516.1 550,516.5 551,516.9 552,517.3 553,517.7 554,518.1 555,518.5 556,518.9 557,519.3 558,519.7 559,520.0 560,520.4 561,520.7 562,521.1 563,521.4 564,521.8 565,522.1 566,522.5 567,522.8 568,523.1 569,523.2 570,523.4 571,523.5 572,523.7 573,523.8 574,524.0 575,524.1 576,524.3 577,524.4 578,524.5 579,524.5 580,524.5 581,524.5 582,524.5 583,524.5 584,524.5 585,524.5 586,524.5 587,524.5 588,524.5 589,524.5 590,524.5 591,524.5 592,524.5 593,524.5 594,524.5 595,524.5 596,524.5 597,524.5 598,524.5 599,524.5 600,524.5 601,524.5 602,524.5 603,524.4 604,524.3 605,524.1 606,523.9 607,523.8 608,523.6 609,523.5 610,523.3 611,523.1 612,523.0 613,522.8 614,522.7 615,522.5 616,522.3 617,522.1 618,521.9 619,521.7 620,521.5 621,521.3 622,521.1 623,520.9 624,520.7 625,520.5 626,520.2 627,520.0 628,519.8 629,519.5 630,519.2 631,519.0 632,518.8 633,518.5 634,518.2 635,518.0 636,518.1 637,518.2 638,518.3 639,518.4 640,518.5 641,518.6 642,518.7 643,518.8 644,518.9 645,519.0 646,519.0 647,519.1 648,519.1 649,519.2 650,519.2 651,519.3 652,519.4 653,519.4 654,519.5 655,519.5 656,519.6 657,519.7 658,519.8 659,519.9 660,520.0 661,520.1 662,520.2 663,520.3 664,520.4 665,520.5 666,520.5 667,520.6 668,520.6 669,520.7 670,520.8 671,520.8 672,520.9 673,520.9 674,521.0 675,521.0 676,521.0 677,520.9 678,520.9 679,520.8 680,520.8 681,520.7 682,520.6 683,520.6 684,520.5 685,520.5 686,520.5 687,520.4 688,520.4 689,520.3 690,520.2 691,520.2 692,520.1 693,520.1 694,520.0 695,520.0 696,519.9 697,519.8 698,519.7 699,519.6 700,519.5" fill="none" stroke="#255501" stroke-width="1.25" stroke-linejoin="round"/>
<circle cx="681.5" cy="18.3" r="14.2" fill="#f3f3f3"/>
<circle cx="681.5" cy="17.3" r="13.8" fill="#fff" stroke="#f0f0f0" stroke-width="0.8"/>
<path d="M681.6 10 L682.4 15.5 V25.8 H680.8 V15.5 Z" fill="#000"/>
<g stroke="#000" fill="none" stroke-linecap="round">
<path d="M675.4 19.1 L681.6 16.7 L687.8 19.1" stroke-width="1.8" stroke-linejoin="round"/>
<path d="M674.9 22.7 H679 M684.2 22.7 H688.3" stroke="#222" stroke-width="1"/>
<path d="M677.3 20.3 V25.3 M685.9 20.3 V25.3" stroke="#333" stroke-width="0.9"/>
</g>

</svg>
</body></html>
